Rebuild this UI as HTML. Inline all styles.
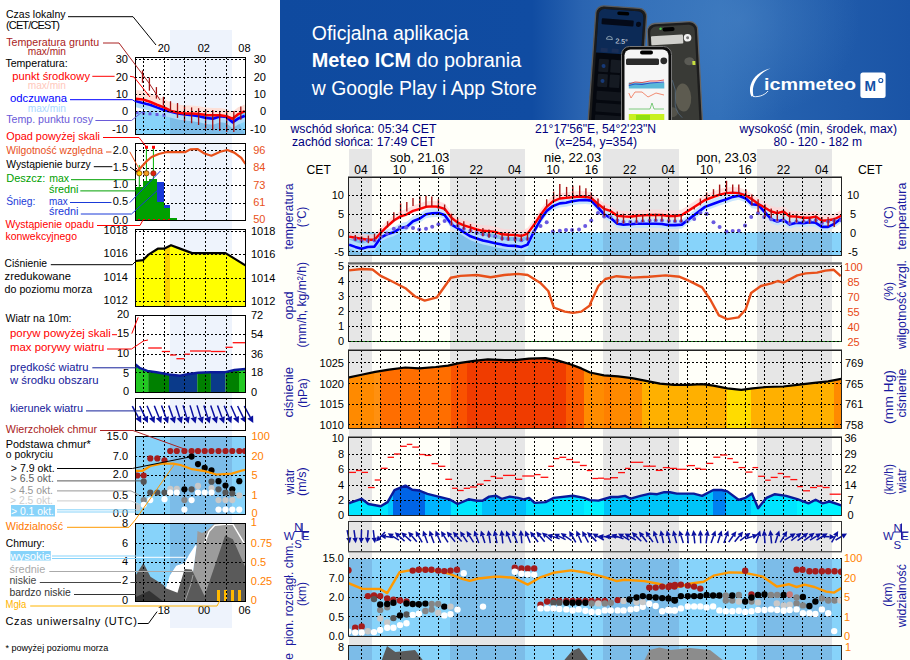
<!DOCTYPE html><html><head><meta charset="utf-8"><style>html,body{margin:0;padding:0;background:#fff;overflow:hidden}</style></head><body><svg width="910" height="660" viewBox="0 0 910 660" style="font-family:'Liberation Sans',sans-serif;display:block">
<rect x="0" y="0" width="280" height="660" fill="#ffffff"/>
<rect x="280" y="0" width="630" height="660" fill="#fffff9"/>
<rect x="349" y="149" width="23" height="511" fill="#e6e6e6"/>
<rect x="450" y="149" width="75" height="511" fill="#e6e6e6"/>
<rect x="603" y="149" width="76" height="511" fill="#e6e6e6"/>
<rect x="757" y="149" width="75" height="511" fill="#e6e6e6"/>
<text x="290.5" y="132.8" font-size="12" fill="#000080" textLength="146" lengthAdjust="spacingAndGlyphs">wschód słońca: 05:34 CET</text>
<text x="292" y="145.9" font-size="12" fill="#000080" textLength="143" lengthAdjust="spacingAndGlyphs">zachód słońca: 17:49 CET</text>
<text x="535" y="132.8" font-size="12" fill="#000080" textLength="121" lengthAdjust="spacingAndGlyphs">21°17'56"E, 54°2'23"N</text>
<text x="555" y="145.9" font-size="12" fill="#000080" textLength="82" lengthAdjust="spacingAndGlyphs">(x=254,  y=354)</text>
<text x="739.5" y="132.8" font-size="12" fill="#000080" textLength="157.5" lengthAdjust="spacingAndGlyphs">wysokość (min, środek, max)</text>
<text x="773.5" y="145.9" font-size="12" fill="#000080" textLength="88.5" lengthAdjust="spacingAndGlyphs">80 - 120 - 182 m</text>
<text x="306.6" y="174.1" font-size="12" fill="#000" textLength="24.3" lengthAdjust="spacingAndGlyphs">CET</text>
<text x="858" y="174.1" font-size="12" fill="#000" textLength="24.3" lengthAdjust="spacingAndGlyphs">CET</text>
<text x="361.0" y="174.1" font-size="12" fill="#000" text-anchor="middle">04</text>
<text x="399.4" y="174.1" font-size="12" fill="#000" text-anchor="middle">10</text>
<text x="437.8" y="174.1" font-size="12" fill="#000" text-anchor="middle">16</text>
<text x="476.2" y="174.1" font-size="12" fill="#000" text-anchor="middle">22</text>
<text x="514.6" y="174.1" font-size="12" fill="#000" text-anchor="middle">04</text>
<text x="553.0" y="174.1" font-size="12" fill="#000" text-anchor="middle">10</text>
<text x="591.4" y="174.1" font-size="12" fill="#000" text-anchor="middle">16</text>
<text x="629.8" y="174.1" font-size="12" fill="#000" text-anchor="middle">22</text>
<text x="668.2" y="174.1" font-size="12" fill="#000" text-anchor="middle">04</text>
<text x="706.6" y="174.1" font-size="12" fill="#000" text-anchor="middle">10</text>
<text x="745.0" y="174.1" font-size="12" fill="#000" text-anchor="middle">16</text>
<text x="783.4" y="174.1" font-size="12" fill="#000" text-anchor="middle">22</text>
<text x="821.8" y="174.1" font-size="12" fill="#000" text-anchor="middle">04</text>
<text x="419.7" y="161.5" font-size="12.5" fill="#000" text-anchor="middle" textLength="59.4" lengthAdjust="spacingAndGlyphs">sob, 21.03</text>
<text x="572.6" y="161.5" font-size="12.5" fill="#000" text-anchor="middle" textLength="57.3" lengthAdjust="spacingAndGlyphs">nie, 22.03</text>
<text x="726.4" y="161.5" font-size="12.5" fill="#000" text-anchor="middle" textLength="60.3" lengthAdjust="spacingAndGlyphs">pon, 23.03</text>
<clipPath id="cT"><rect x="349" y="178" width="492" height="77"/></clipPath>
<g clip-path="url(#cT)">
<rect x="349" y="232.5" width="492" height="23" fill="#87d3fa"/>
<rect x="349" y="232.5" width="23" height="23" fill="#7fbfe8"/>
<rect x="450" y="232.5" width="75" height="23" fill="#7fbfe8"/>
<rect x="603" y="232.5" width="76" height="23" fill="#7fbfe8"/>
<rect x="757" y="232.5" width="75" height="23" fill="#7fbfe8"/>
<polygon points="349.1,231.1 355.3,232.2 361.5,233.3 367.7,234.3 374.5,234.3 380.7,227.4 386.9,221.2 393.8,215.0 400.6,210.9 406.8,208.8 413.0,205.4 419.9,203.3 426.0,201.3 432.2,200.9 438.4,201.3 444.6,203.3 451.5,212.3 457.6,217.1 463.8,219.8 470.5,221.9 476.7,224.0 482.9,225.3 489.0,225.6 495.2,226.4 502.1,228.8 508.3,229.2 515.1,229.4 521.3,230.5 527.5,228.1 533.7,219.8 540.5,209.5 546.7,201.3 552.9,195.8 559.8,193.0 566.0,192.4 572.1,191.7 579.0,191.0 585.2,191.3 591.2,192.4 598.0,198.5 604.2,203.3 610.4,205.4 617.3,210.2 623.5,210.9 630.3,211.3 636.5,210.2 642.7,209.9 649.6,209.5 655.7,209.5 661.9,209.5 668.8,210.5 675.0,210.5 681.8,209.5 705.0,194.5 713.5,191.4 719.6,189.1 726.5,187.6 732.7,187.1 738.8,187.6 745.8,189.9 751.9,193.7 758.1,198.3 765.0,202.2 771.2,206.0 777.3,207.6 783.5,206.0 789.6,210.7 796.5,211.1 803.5,212.2 809.6,212.2 815.8,211.1 821.9,215.3 828.1,214.8 834.2,213.7 841.2,210.2 841.2,217.7 834.2,221.2 828.1,222.3 821.9,222.8 815.8,218.6 809.6,219.7 803.5,219.7 796.5,218.6 789.6,218.2 783.5,213.5 777.3,215.1 771.2,213.5 765.0,209.7 758.1,205.8 751.9,201.2 745.8,197.4 738.8,195.1 732.7,194.6 726.5,195.1 719.6,196.6 713.5,198.9 705.0,202.0 681.8,217.0 675.0,218.0 668.8,218.0 661.9,217.0 655.7,217.0 649.6,217.0 642.7,217.4 636.5,217.7 630.3,218.8 623.5,218.4 617.3,217.7 610.4,212.9 604.2,210.8 598.0,206.0 591.2,199.9 585.2,198.8 579.0,198.5 572.1,199.2 566.0,199.9 559.8,200.5 552.9,203.3 546.7,208.8 540.5,217.0 533.7,227.3 527.5,235.6 521.3,238.0 515.1,236.9 508.3,236.7 502.1,236.3 495.2,233.9 489.0,233.1 482.9,232.8 476.7,231.5 470.5,229.4 463.8,227.3 457.6,224.6 451.5,219.8 444.6,210.8 438.4,208.8 432.2,208.4 426.0,208.8 419.9,210.8 413.0,212.9 406.8,216.3 400.6,218.4 393.8,222.5 386.9,228.7 380.7,234.9 374.5,241.8 367.7,241.8 361.5,240.8 355.3,239.7 349.1,238.6" fill="#ffd6d6" opacity="0.75"/>
<polygon points="349.1,239.6 355.3,241.9 361.5,243.7 367.7,242.0 374.5,241.6 380.7,232.7 386.9,229.3 393.8,227.2 400.6,223.1 406.8,221.7 413.0,216.2 419.9,213.5 426.0,209.3 432.2,208.2 438.4,208.0 444.6,210.0 451.5,219.6 457.6,223.1 463.8,227.2 470.5,231.3 476.7,233.4 482.9,235.4 489.0,236.8 495.2,238.2 502.1,239.6 508.3,240.7 515.1,240.9 521.3,242.0 527.5,239.6 533.7,227.2 540.5,214.8 546.7,205.9 552.9,201.1 559.8,198.4 566.0,197.7 572.1,196.3 579.0,195.3 585.2,194.9 591.2,195.6 598.0,202.5 604.2,209.3 610.4,212.8 617.3,218.7 623.5,219.6 630.3,219.2 636.5,218.7 642.7,218.7 649.6,218.7 655.7,218.7 661.9,219.0 668.8,220.1 675.0,220.1 681.8,219.6 705.0,201.9 713.5,198.8 719.6,196.5 726.5,194.2 732.7,191.9 738.8,190.7 745.8,193.5 751.9,199.3 758.1,199.9 765.0,207.3 771.2,214.2 777.3,216.5 783.5,214.7 789.6,219.6 796.5,217.8 803.5,218.1 809.6,217.3 815.8,217.8 821.9,221.9 828.1,221.9 834.2,218.8 841.2,213.5 841.2,222.5 834.2,227.8 828.1,230.9 821.9,230.9 815.8,226.8 809.6,226.3 803.5,227.1 796.5,226.8 789.6,228.6 783.5,223.7 777.3,225.5 771.2,223.2 765.0,216.3 758.1,208.9 751.9,208.3 745.8,202.5 738.8,199.7 732.7,200.9 726.5,203.2 719.6,205.5 713.5,207.8 705.0,210.9 681.8,228.6 675.0,229.1 668.8,229.1 661.9,228.0 655.7,227.7 649.6,227.7 642.7,227.7 636.5,227.7 630.3,228.2 623.5,228.6 617.3,227.7 610.4,221.8 604.2,218.3 598.0,211.5 591.2,204.6 585.2,203.9 579.0,204.3 572.1,205.3 566.0,206.7 559.8,207.4 552.9,210.1 546.7,214.9 540.5,223.8 533.7,236.2 527.5,248.6 521.3,251.0 515.1,249.9 508.3,249.7 502.1,248.6 495.2,247.2 489.0,245.8 482.9,244.4 476.7,242.4 470.5,240.3 463.8,236.2 457.6,232.1 451.5,228.6 444.6,219.0 438.4,217.0 432.2,217.2 426.0,218.3 419.9,222.5 413.0,225.2 406.8,230.7 400.6,232.1 393.8,236.2 386.9,238.3 380.7,241.7 374.5,250.6 367.7,251.0 361.5,252.7 355.3,250.9 349.1,248.6" fill="#bfe2ff" opacity="0.85"/>
<polyline points="349.1,244.6 355.3,246.9 361.5,248.7 367.7,247.0 374.5,246.6 380.7,237.7 386.9,234.3 393.8,232.2 400.6,228.1 406.8,226.7 413.0,221.2 419.9,218.5 426.0,214.3 432.2,213.2 438.4,213.0 444.6,215.0 451.5,224.6 457.6,228.1 463.8,232.2 470.5,236.3 476.7,238.4 482.9,240.4 489.0,241.8 495.2,243.2 502.1,244.6 508.3,245.7 515.1,245.9 521.3,247.0 527.5,244.6 533.7,232.2 540.5,219.8 546.7,210.9 552.9,206.1 559.8,203.4 566.0,202.7 572.1,201.3 579.0,200.3 585.2,199.9 591.2,200.6 598.0,207.5 604.2,214.3 610.4,217.8 617.3,223.7 623.5,224.6 630.3,224.2 636.5,223.7 642.7,223.7 649.6,223.7 655.7,223.7 661.9,224.0 668.8,225.1 675.0,225.1 681.8,224.6 705.0,206.9 713.5,203.8 719.6,201.5 726.5,199.2 732.7,196.9 738.8,195.7 745.8,198.5 751.9,204.3 758.1,204.9 765.0,212.3 771.2,219.2 777.3,221.5 783.5,219.7 789.6,224.6 796.5,222.8 803.5,223.1 809.6,222.3 815.8,222.8 821.9,226.9 828.1,226.9 834.2,223.8 841.2,218.5" fill="none" stroke="#0000ff" stroke-width="2.6" stroke-linejoin="round"/>
<polyline points="349.1,236.6 355.3,237.7 361.5,238.8 367.7,239.8 374.5,239.8 380.7,232.9 386.9,226.7 393.8,220.5 400.6,216.4 406.8,214.3 413.0,210.9 419.9,208.8 426.0,206.8 432.2,206.4 438.4,206.8 444.6,208.8 451.5,217.8 457.6,222.6 463.8,225.3 470.5,227.4 476.7,229.5 482.9,230.8 489.0,231.1 495.2,231.9 502.1,234.3 508.3,234.7 515.1,234.9 521.3,236.0 527.5,233.6 533.7,225.3 540.5,215.0 546.7,206.8 552.9,201.3 559.8,198.5 566.0,197.9 572.1,197.2 579.0,196.5 585.2,196.8 591.2,197.9 598.0,204.0 604.2,208.8 610.4,210.9 617.3,215.7 623.5,216.4 630.3,216.8 636.5,215.7 642.7,215.4 649.6,215.0 655.7,215.0 661.9,215.0 668.8,216.0 675.0,216.0 681.8,215.0 705.0,200.0 713.5,196.9 719.6,194.6 726.5,193.1 732.7,192.6 738.8,193.1 745.8,195.4 751.9,199.2 758.1,203.8 765.0,207.7 771.2,211.5 777.3,213.1 783.5,211.5 789.6,216.2 796.5,216.6 803.5,217.7 809.6,217.7 815.8,216.6 821.9,220.8 828.1,220.3 834.2,219.2 841.2,215.7" fill="none" stroke="#ff0000" stroke-width="2.4" stroke-linejoin="round"/>
<circle cx="355.3" cy="239.3" r="2" fill="#6a5ae0"/>
<circle cx="361.5" cy="240.4" r="2" fill="#6a5ae0"/>
<circle cx="367.7" cy="240.4" r="2" fill="#6a5ae0"/>
<circle cx="374.5" cy="240.4" r="2" fill="#6a5ae0"/>
<circle cx="380.7" cy="237.0" r="2" fill="#6a5ae0"/>
<circle cx="386.9" cy="233.6" r="2" fill="#6a5ae0"/>
<circle cx="393.8" cy="228.8" r="2" fill="#6a5ae0"/>
<circle cx="399.9" cy="227.4" r="2" fill="#6a5ae0"/>
<circle cx="406.1" cy="227.4" r="2" fill="#6a5ae0"/>
<circle cx="413.0" cy="228.1" r="2" fill="#6a5ae0"/>
<circle cx="419.2" cy="229.5" r="2" fill="#6a5ae0"/>
<circle cx="426.0" cy="228.8" r="2" fill="#6a5ae0"/>
<circle cx="432.2" cy="226.7" r="2" fill="#6a5ae0"/>
<circle cx="438.4" cy="224.2" r="2" fill="#6a5ae0"/>
<circle cx="444.6" cy="220.9" r="2" fill="#6a5ae0"/>
<circle cx="451.5" cy="224.0" r="2" fill="#6a5ae0"/>
<circle cx="457.6" cy="226.0" r="2" fill="#6a5ae0"/>
<circle cx="463.8" cy="228.8" r="2" fill="#6a5ae0"/>
<circle cx="470.5" cy="230.8" r="2" fill="#6a5ae0"/>
<circle cx="476.7" cy="232.9" r="2" fill="#6a5ae0"/>
<circle cx="482.9" cy="234.3" r="2" fill="#6a5ae0"/>
<circle cx="489.0" cy="235.6" r="2" fill="#6a5ae0"/>
<circle cx="495.2" cy="236.3" r="2" fill="#6a5ae0"/>
<circle cx="502.1" cy="238.4" r="2" fill="#6a5ae0"/>
<circle cx="508.3" cy="239.1" r="2" fill="#6a5ae0"/>
<circle cx="515.1" cy="239.1" r="2" fill="#6a5ae0"/>
<circle cx="521.3" cy="240.2" r="2" fill="#6a5ae0"/>
<circle cx="527.5" cy="239.1" r="2" fill="#6a5ae0"/>
<circle cx="533.7" cy="232.2" r="2" fill="#6a5ae0"/>
<circle cx="540.5" cy="226.0" r="2" fill="#6a5ae0"/>
<circle cx="546.7" cy="222.3" r="2" fill="#6a5ae0"/>
<circle cx="552.9" cy="231.5" r="2" fill="#6a5ae0"/>
<circle cx="559.8" cy="230.8" r="2" fill="#6a5ae0"/>
<circle cx="566.0" cy="230.1" r="2" fill="#6a5ae0"/>
<circle cx="572.1" cy="230.1" r="2" fill="#6a5ae0"/>
<circle cx="579.0" cy="229.5" r="2" fill="#6a5ae0"/>
<circle cx="585.2" cy="226.0" r="2" fill="#6a5ae0"/>
<circle cx="591.2" cy="220.5" r="2" fill="#6a5ae0"/>
<circle cx="598.0" cy="213.0" r="2" fill="#6a5ae0"/>
<circle cx="604.2" cy="216.4" r="2" fill="#6a5ae0"/>
<circle cx="610.4" cy="217.1" r="2" fill="#6a5ae0"/>
<circle cx="617.3" cy="220.5" r="2" fill="#6a5ae0"/>
<circle cx="623.5" cy="221.9" r="2" fill="#6a5ae0"/>
<circle cx="630.3" cy="221.9" r="2" fill="#6a5ae0"/>
<circle cx="636.5" cy="221.9" r="2" fill="#6a5ae0"/>
<circle cx="642.7" cy="221.2" r="2" fill="#6a5ae0"/>
<circle cx="649.6" cy="220.8" r="2" fill="#6a5ae0"/>
<circle cx="655.7" cy="220.5" r="2" fill="#6a5ae0"/>
<circle cx="661.9" cy="220.5" r="2" fill="#6a5ae0"/>
<circle cx="668.8" cy="220.9" r="2" fill="#6a5ae0"/>
<circle cx="675.0" cy="221.2" r="2" fill="#6a5ae0"/>
<circle cx="681.2" cy="221.2" r="2" fill="#6a5ae0"/>
<circle cx="687.3" cy="220.9" r="2" fill="#6a5ae0"/>
<circle cx="694.2" cy="219.1" r="2" fill="#6a5ae0"/>
<circle cx="700.4" cy="213.0" r="2" fill="#6a5ae0"/>
<circle cx="706.6" cy="213.7" r="2" fill="#6a5ae0"/>
<circle cx="706.5" cy="213.8" r="2" fill="#6a5ae0"/>
<circle cx="713.5" cy="222.3" r="2" fill="#6a5ae0"/>
<circle cx="719.6" cy="226.9" r="2" fill="#6a5ae0"/>
<circle cx="726.5" cy="231.5" r="2" fill="#6a5ae0"/>
<circle cx="732.7" cy="231.1" r="2" fill="#6a5ae0"/>
<circle cx="738.8" cy="230.8" r="2" fill="#6a5ae0"/>
<circle cx="745.0" cy="225.4" r="2" fill="#6a5ae0"/>
<circle cx="751.2" cy="216.9" r="2" fill="#6a5ae0"/>
<circle cx="758.1" cy="213.1" r="2" fill="#6a5ae0"/>
<circle cx="764.2" cy="216.9" r="2" fill="#6a5ae0"/>
<circle cx="771.2" cy="219.2" r="2" fill="#6a5ae0"/>
<circle cx="777.3" cy="220.8" r="2" fill="#6a5ae0"/>
<circle cx="783.5" cy="220.8" r="2" fill="#6a5ae0"/>
<circle cx="789.6" cy="223.1" r="2" fill="#6a5ae0"/>
<circle cx="796.5" cy="221.5" r="2" fill="#6a5ae0"/>
<circle cx="803.5" cy="221.5" r="2" fill="#6a5ae0"/>
<circle cx="809.6" cy="220.8" r="2" fill="#6a5ae0"/>
<circle cx="815.8" cy="220.3" r="2" fill="#6a5ae0"/>
<circle cx="821.9" cy="223.1" r="2" fill="#6a5ae0"/>
<circle cx="828.1" cy="221.5" r="2" fill="#6a5ae0"/>
<circle cx="834.2" cy="220.8" r="2" fill="#6a5ae0"/>
<circle cx="841.2" cy="220.3" r="2" fill="#6a5ae0"/>
<line x1="355.3" y1="234.9" x2="355.3" y2="240.4" stroke="#a81414" stroke-width="1.4"/>
<line x1="361.5" y1="236.3" x2="361.5" y2="241.1" stroke="#a81414" stroke-width="1.4"/>
<line x1="368.4" y1="235.6" x2="368.4" y2="243.2" stroke="#a81414" stroke-width="1.4"/>
<line x1="374.5" y1="233.6" x2="374.5" y2="241.1" stroke="#a81414" stroke-width="1.4"/>
<line x1="380.7" y1="228.1" x2="380.7" y2="236.3" stroke="#a81414" stroke-width="1.4"/>
<line x1="387.6" y1="221.2" x2="387.6" y2="227.4" stroke="#a81414" stroke-width="1.4"/>
<line x1="393.8" y1="212.3" x2="393.8" y2="221.2" stroke="#a81414" stroke-width="1.4"/>
<line x1="400.6" y1="203.4" x2="400.6" y2="214.3" stroke="#a81414" stroke-width="1.4"/>
<line x1="406.8" y1="202.0" x2="406.8" y2="211.6" stroke="#a81414" stroke-width="1.4"/>
<line x1="413.0" y1="197.9" x2="413.0" y2="206.1" stroke="#a81414" stroke-width="1.4"/>
<line x1="419.9" y1="196.5" x2="419.9" y2="208.8" stroke="#a81414" stroke-width="1.4"/>
<line x1="426.0" y1="195.8" x2="426.0" y2="206.8" stroke="#a81414" stroke-width="1.4"/>
<line x1="431.8" y1="196.5" x2="431.8" y2="206.1" stroke="#a81414" stroke-width="1.4"/>
<line x1="438.4" y1="199.2" x2="438.4" y2="208.8" stroke="#a81414" stroke-width="1.4"/>
<line x1="444.6" y1="204.5" x2="444.6" y2="210.9" stroke="#a81414" stroke-width="1.4"/>
<line x1="451.5" y1="213.7" x2="451.5" y2="225.3" stroke="#a81414" stroke-width="1.4"/>
<line x1="457.6" y1="218.5" x2="457.6" y2="226.7" stroke="#a81414" stroke-width="1.4"/>
<line x1="463.8" y1="221.2" x2="463.8" y2="229.5" stroke="#a81414" stroke-width="1.4"/>
<line x1="470.5" y1="224.0" x2="470.5" y2="232.2" stroke="#a81414" stroke-width="1.4"/>
<line x1="482.9" y1="228.1" x2="482.9" y2="236.3" stroke="#a81414" stroke-width="1.4"/>
<line x1="489.0" y1="229.5" x2="489.0" y2="237.7" stroke="#a81414" stroke-width="1.4"/>
<line x1="502.1" y1="232.2" x2="502.1" y2="240.4" stroke="#a81414" stroke-width="1.4"/>
<line x1="508.3" y1="232.9" x2="508.3" y2="240.4" stroke="#a81414" stroke-width="1.4"/>
<line x1="515.1" y1="233.6" x2="515.1" y2="241.8" stroke="#a81414" stroke-width="1.4"/>
<line x1="521.3" y1="234.3" x2="521.3" y2="241.1" stroke="#a81414" stroke-width="1.4"/>
<line x1="527.5" y1="232.2" x2="527.5" y2="240.4" stroke="#a81414" stroke-width="1.4"/>
<line x1="540.5" y1="213.0" x2="540.5" y2="219.8" stroke="#a81414" stroke-width="1.4"/>
<line x1="546.7" y1="199.2" x2="546.7" y2="206.8" stroke="#a81414" stroke-width="1.4"/>
<line x1="553.6" y1="191.7" x2="553.6" y2="202.0" stroke="#a81414" stroke-width="1.4"/>
<line x1="559.8" y1="184.1" x2="559.8" y2="198.5" stroke="#a81414" stroke-width="1.4"/>
<line x1="566.6" y1="186.9" x2="566.6" y2="197.2" stroke="#a81414" stroke-width="1.4"/>
<line x1="572.8" y1="185.5" x2="572.8" y2="197.2" stroke="#a81414" stroke-width="1.4"/>
<line x1="579.7" y1="185.5" x2="579.7" y2="196.5" stroke="#a81414" stroke-width="1.4"/>
<line x1="585.9" y1="188.2" x2="585.9" y2="197.9" stroke="#a81414" stroke-width="1.4"/>
<line x1="591.2" y1="192.4" x2="591.2" y2="199.2" stroke="#a81414" stroke-width="1.4"/>
<line x1="598.0" y1="198.5" x2="598.0" y2="207.5" stroke="#a81414" stroke-width="1.4"/>
<line x1="604.2" y1="205.4" x2="604.2" y2="216.4" stroke="#a81414" stroke-width="1.4"/>
<line x1="617.3" y1="211.6" x2="617.3" y2="224.0" stroke="#a81414" stroke-width="1.4"/>
<line x1="623.5" y1="213.7" x2="623.5" y2="223.3" stroke="#a81414" stroke-width="1.4"/>
<line x1="636.5" y1="214.3" x2="636.5" y2="222.6" stroke="#a81414" stroke-width="1.4"/>
<line x1="642.7" y1="214.3" x2="642.7" y2="221.9" stroke="#a81414" stroke-width="1.4"/>
<line x1="649.6" y1="213.7" x2="649.6" y2="221.2" stroke="#a81414" stroke-width="1.4"/>
<line x1="655.7" y1="213.7" x2="655.7" y2="221.2" stroke="#a81414" stroke-width="1.4"/>
<line x1="661.9" y1="214.3" x2="661.9" y2="221.2" stroke="#a81414" stroke-width="1.4"/>
<line x1="668.8" y1="215.0" x2="668.8" y2="221.9" stroke="#a81414" stroke-width="1.4"/>
<line x1="675.0" y1="214.3" x2="675.0" y2="221.9" stroke="#a81414" stroke-width="1.4"/>
<line x1="681.2" y1="215.0" x2="681.2" y2="221.9" stroke="#a81414" stroke-width="1.4"/>
<line x1="694.2" y1="206.8" x2="694.2" y2="209.5" stroke="#a81414" stroke-width="1.4"/>
<line x1="700.4" y1="198.5" x2="700.4" y2="205.4" stroke="#a81414" stroke-width="1.4"/>
<line x1="706.6" y1="192.4" x2="706.6" y2="199.9" stroke="#a81414" stroke-width="1.4"/>
<line x1="713.5" y1="189.2" x2="713.5" y2="196.9" stroke="#a81414" stroke-width="1.4"/>
<line x1="719.6" y1="184.6" x2="719.6" y2="195.4" stroke="#a81414" stroke-width="1.4"/>
<line x1="726.5" y1="180.8" x2="726.5" y2="193.8" stroke="#a81414" stroke-width="1.4"/>
<line x1="732.7" y1="184.6" x2="732.7" y2="193.1" stroke="#a81414" stroke-width="1.4"/>
<line x1="738.8" y1="184.6" x2="738.8" y2="193.8" stroke="#a81414" stroke-width="1.4"/>
<line x1="745.8" y1="189.2" x2="745.8" y2="195.4" stroke="#a81414" stroke-width="1.4"/>
<line x1="751.9" y1="194.6" x2="751.9" y2="205.4" stroke="#a81414" stroke-width="1.4"/>
<line x1="758.1" y1="199.2" x2="758.1" y2="212.3" stroke="#a81414" stroke-width="1.4"/>
<line x1="765.0" y1="204.6" x2="765.0" y2="216.9" stroke="#a81414" stroke-width="1.4"/>
<line x1="771.2" y1="208.5" x2="771.2" y2="217.7" stroke="#a81414" stroke-width="1.4"/>
<line x1="777.3" y1="210.0" x2="777.3" y2="220.8" stroke="#a81414" stroke-width="1.4"/>
<line x1="783.5" y1="210.8" x2="783.5" y2="220.0" stroke="#a81414" stroke-width="1.4"/>
<line x1="789.6" y1="212.3" x2="789.6" y2="222.3" stroke="#a81414" stroke-width="1.4"/>
<line x1="796.5" y1="213.8" x2="796.5" y2="222.3" stroke="#a81414" stroke-width="1.4"/>
<line x1="803.5" y1="216.2" x2="803.5" y2="221.5" stroke="#a81414" stroke-width="1.4"/>
<line x1="809.6" y1="216.9" x2="809.6" y2="223.8" stroke="#a81414" stroke-width="1.4"/>
<line x1="815.8" y1="215.4" x2="815.8" y2="222.3" stroke="#a81414" stroke-width="1.4"/>
<line x1="821.9" y1="216.9" x2="821.9" y2="223.1" stroke="#a81414" stroke-width="1.4"/>
<line x1="828.1" y1="216.9" x2="828.1" y2="226.2" stroke="#a81414" stroke-width="1.4"/>
<line x1="834.2" y1="217.7" x2="834.2" y2="226.9" stroke="#a81414" stroke-width="1.4"/>
</g>
<line x1="348" y1="195.5" x2="841" y2="195.5" stroke="#000" stroke-width="1" stroke-dasharray="2,2"/>
<line x1="348" y1="214.5" x2="841" y2="214.5" stroke="#000" stroke-width="1" stroke-dasharray="2,2"/>
<line x1="348" y1="232.5" x2="841" y2="232.5" stroke="#000" stroke-width="1" stroke-dasharray="2,2"/>
<line x1="348" y1="251.5" x2="841" y2="251.5" stroke="#000" stroke-width="1" stroke-dasharray="2,2"/>
<line x1="361.5" y1="177" x2="361.5" y2="255" stroke="#000" stroke-width="1" stroke-dasharray="2,2"/>
<line x1="380.5" y1="177" x2="380.5" y2="255" stroke="#000" stroke-width="1" stroke-dasharray="2,2"/>
<line x1="400.5" y1="177" x2="400.5" y2="255" stroke="#000" stroke-width="1" stroke-dasharray="2,2"/>
<line x1="419.5" y1="177" x2="419.5" y2="255" stroke="#000" stroke-width="1" stroke-dasharray="2,2"/>
<line x1="438.5" y1="177" x2="438.5" y2="255" stroke="#000" stroke-width="1" stroke-dasharray="2,2"/>
<line x1="457.5" y1="177" x2="457.5" y2="255" stroke="#000" stroke-width="1" stroke-dasharray="2,2"/>
<line x1="476.5" y1="177" x2="476.5" y2="255" stroke="#000" stroke-width="1" stroke-dasharray="2,2"/>
<line x1="495.5" y1="177" x2="495.5" y2="255" stroke="#000" stroke-width="1" stroke-dasharray="2,2"/>
<line x1="515.5" y1="177" x2="515.5" y2="255" stroke="#000" stroke-width="1" stroke-dasharray="2,2"/>
<line x1="534.5" y1="177" x2="534.5" y2="255" stroke="#000" stroke-width="1" stroke-dasharray="2,2"/>
<line x1="553.5" y1="177" x2="553.5" y2="255" stroke="#000" stroke-width="1" stroke-dasharray="2,2"/>
<line x1="572.5" y1="177" x2="572.5" y2="255" stroke="#000" stroke-width="1" stroke-dasharray="2,2"/>
<line x1="591.5" y1="177" x2="591.5" y2="255" stroke="#000" stroke-width="1" stroke-dasharray="2,2"/>
<line x1="610.5" y1="177" x2="610.5" y2="255" stroke="#000" stroke-width="1" stroke-dasharray="2,2"/>
<line x1="630.5" y1="177" x2="630.5" y2="255" stroke="#000" stroke-width="1" stroke-dasharray="2,2"/>
<line x1="649.5" y1="177" x2="649.5" y2="255" stroke="#000" stroke-width="1" stroke-dasharray="2,2"/>
<line x1="668.5" y1="177" x2="668.5" y2="255" stroke="#000" stroke-width="1" stroke-dasharray="2,2"/>
<line x1="687.5" y1="177" x2="687.5" y2="255" stroke="#000" stroke-width="1" stroke-dasharray="2,2"/>
<line x1="706.5" y1="177" x2="706.5" y2="255" stroke="#000" stroke-width="1" stroke-dasharray="2,2"/>
<line x1="725.5" y1="177" x2="725.5" y2="255" stroke="#000" stroke-width="1" stroke-dasharray="2,2"/>
<line x1="745.5" y1="177" x2="745.5" y2="255" stroke="#000" stroke-width="1" stroke-dasharray="2,2"/>
<line x1="764.5" y1="177" x2="764.5" y2="255" stroke="#000" stroke-width="1" stroke-dasharray="2,2"/>
<line x1="783.5" y1="177" x2="783.5" y2="255" stroke="#000" stroke-width="1" stroke-dasharray="2,2"/>
<line x1="802.5" y1="177" x2="802.5" y2="255" stroke="#000" stroke-width="1" stroke-dasharray="2,2"/>
<line x1="821.5" y1="177" x2="821.5" y2="255" stroke="#000" stroke-width="1" stroke-dasharray="2,2"/>
<rect x="348.5" y="177.5" width="493" height="78" fill="none" stroke="#222" stroke-width="1"/>
<line x1="348" y1="176.5" x2="842" y2="176.5" stroke="#8a8a8a" stroke-width="1"/>
<text x="344" y="199.3" font-size="11" fill="#000" text-anchor="end">10</text>
<text x="853" y="199.3" font-size="11" fill="#000" text-anchor="middle">10</text>
<text x="344" y="218.3" font-size="11" fill="#000" text-anchor="end">5</text>
<text x="853" y="218.3" font-size="11" fill="#000" text-anchor="middle">5</text>
<text x="344" y="236.8" font-size="11" fill="#000" text-anchor="end">0</text>
<text x="853" y="236.8" font-size="11" fill="#000" text-anchor="middle">0</text>
<text x="344" y="255.60000000000002" font-size="11" fill="#000" text-anchor="end">-5</text>
<text x="853" y="255.60000000000002" font-size="11" fill="#000" text-anchor="middle">-5</text>
<line x1="348" y1="266.5" x2="841" y2="266.5" stroke="#000" stroke-width="1" stroke-dasharray="2,2"/>
<line x1="348" y1="281.5" x2="841" y2="281.5" stroke="#000" stroke-width="1" stroke-dasharray="2,2"/>
<line x1="348" y1="296.5" x2="841" y2="296.5" stroke="#000" stroke-width="1" stroke-dasharray="2,2"/>
<line x1="348" y1="311.5" x2="841" y2="311.5" stroke="#000" stroke-width="1" stroke-dasharray="2,2"/>
<line x1="348" y1="326.5" x2="841" y2="326.5" stroke="#000" stroke-width="1" stroke-dasharray="2,2"/>
<line x1="361.5" y1="263" x2="361.5" y2="341" stroke="#000" stroke-width="1" stroke-dasharray="2,2"/>
<line x1="380.5" y1="263" x2="380.5" y2="341" stroke="#000" stroke-width="1" stroke-dasharray="2,2"/>
<line x1="400.5" y1="263" x2="400.5" y2="341" stroke="#000" stroke-width="1" stroke-dasharray="2,2"/>
<line x1="419.5" y1="263" x2="419.5" y2="341" stroke="#000" stroke-width="1" stroke-dasharray="2,2"/>
<line x1="438.5" y1="263" x2="438.5" y2="341" stroke="#000" stroke-width="1" stroke-dasharray="2,2"/>
<line x1="457.5" y1="263" x2="457.5" y2="341" stroke="#000" stroke-width="1" stroke-dasharray="2,2"/>
<line x1="476.5" y1="263" x2="476.5" y2="341" stroke="#000" stroke-width="1" stroke-dasharray="2,2"/>
<line x1="495.5" y1="263" x2="495.5" y2="341" stroke="#000" stroke-width="1" stroke-dasharray="2,2"/>
<line x1="515.5" y1="263" x2="515.5" y2="341" stroke="#000" stroke-width="1" stroke-dasharray="2,2"/>
<line x1="534.5" y1="263" x2="534.5" y2="341" stroke="#000" stroke-width="1" stroke-dasharray="2,2"/>
<line x1="553.5" y1="263" x2="553.5" y2="341" stroke="#000" stroke-width="1" stroke-dasharray="2,2"/>
<line x1="572.5" y1="263" x2="572.5" y2="341" stroke="#000" stroke-width="1" stroke-dasharray="2,2"/>
<line x1="591.5" y1="263" x2="591.5" y2="341" stroke="#000" stroke-width="1" stroke-dasharray="2,2"/>
<line x1="610.5" y1="263" x2="610.5" y2="341" stroke="#000" stroke-width="1" stroke-dasharray="2,2"/>
<line x1="630.5" y1="263" x2="630.5" y2="341" stroke="#000" stroke-width="1" stroke-dasharray="2,2"/>
<line x1="649.5" y1="263" x2="649.5" y2="341" stroke="#000" stroke-width="1" stroke-dasharray="2,2"/>
<line x1="668.5" y1="263" x2="668.5" y2="341" stroke="#000" stroke-width="1" stroke-dasharray="2,2"/>
<line x1="687.5" y1="263" x2="687.5" y2="341" stroke="#000" stroke-width="1" stroke-dasharray="2,2"/>
<line x1="706.5" y1="263" x2="706.5" y2="341" stroke="#000" stroke-width="1" stroke-dasharray="2,2"/>
<line x1="725.5" y1="263" x2="725.5" y2="341" stroke="#000" stroke-width="1" stroke-dasharray="2,2"/>
<line x1="745.5" y1="263" x2="745.5" y2="341" stroke="#000" stroke-width="1" stroke-dasharray="2,2"/>
<line x1="764.5" y1="263" x2="764.5" y2="341" stroke="#000" stroke-width="1" stroke-dasharray="2,2"/>
<line x1="783.5" y1="263" x2="783.5" y2="341" stroke="#000" stroke-width="1" stroke-dasharray="2,2"/>
<line x1="802.5" y1="263" x2="802.5" y2="341" stroke="#000" stroke-width="1" stroke-dasharray="2,2"/>
<line x1="821.5" y1="263" x2="821.5" y2="341" stroke="#000" stroke-width="1" stroke-dasharray="2,2"/>
<polyline points="349.1,270.4 361.5,269.0 372.5,269.5 380.7,275.9 390.3,280.5 405.4,288.2 415.1,296.5 424.7,300.6 437.0,297.3 450.8,277.8 460.4,275.9 476.9,275.0 490.6,277.2 504.3,275.0 518.1,273.9 527.7,275.0 540.1,282.7 548.3,291.0 553.8,307.5 564.8,311.6 573.0,312.9 581.3,311.6 590.9,304.7 590.0,304.2 598.4,286.0 605.4,279.0 616.6,276.2 632.0,277.6 648.8,276.8 665.7,275.4 679.7,276.8 688.1,280.4 702.1,287.4 710.5,300.0 718.9,315.4 727.3,319.1 738.5,317.4 745.5,309.8 751.1,293.0 760.9,286.0 772.1,283.2 777.7,281.0 783.3,282.7 797.3,275.4 805.7,273.4 817.0,272.6 825.4,270.6 833.8,269.8 840.8,276.2" fill="none" stroke="#e8501a" stroke-width="2.4" stroke-linejoin="round"/>
<rect x="348.5" y="263.5" width="493" height="78" fill="none" stroke="#222" stroke-width="1"/>
<line x1="348" y1="262.5" x2="842" y2="262.5" stroke="#8a8a8a" stroke-width="1"/>
<line x1="348" y1="263.5" x2="842" y2="263.5" stroke="#666" stroke-width="1"/>
<line x1="348" y1="264.5" x2="842" y2="264.5" stroke="#aaa" stroke-width="1"/>
<line x1="349" y1="341.5" x2="841" y2="341.5" stroke="#1a7a1a" stroke-width="1"/>
<line x1="349" y1="341.5" x2="841" y2="341.5" stroke="#000" stroke-width="1" stroke-dasharray="2,2"/>
<text x="344" y="270.3" font-size="11" fill="#000" text-anchor="end">5</text>
<text x="344" y="285.3" font-size="11" fill="#000" text-anchor="end">4</text>
<text x="344" y="300.3" font-size="11" fill="#000" text-anchor="end">3</text>
<text x="344" y="315.3" font-size="11" fill="#000" text-anchor="end">2</text>
<text x="344" y="330.3" font-size="11" fill="#000" text-anchor="end">1</text>
<text x="344" y="345.3" font-size="11" fill="#000" text-anchor="end">0</text>
<text x="853.5" y="270.6" font-size="11" fill="#e84814" text-anchor="middle">100</text>
<text x="853.5" y="285.6" font-size="11" fill="#e84814" text-anchor="middle">85</text>
<text x="853.5" y="300.6" font-size="11" fill="#e84814" text-anchor="middle">70</text>
<text x="853.5" y="315.6" font-size="11" fill="#e84814" text-anchor="middle">55</text>
<text x="853.5" y="330.6" font-size="11" fill="#e84814" text-anchor="middle">40</text>
<text x="853.5" y="345.6" font-size="11" fill="#e84814" text-anchor="middle">25</text>
<clipPath id="cR"><rect x="349" y="351" width="492" height="77"/></clipPath>
<g clip-path="url(#cR)">
<clipPath id="cRf"><polygon points="345.8,378.0 349.1,377.4 361.5,374.7 375.2,371.9 389.0,369.7 405.4,367.5 419.2,368.4 435.7,367.0 448.0,365.6 460.4,362.9 474.1,360.9 487.9,359.3 504.3,360.1 515.3,360.1 529.1,358.7 545.5,358.2 556.5,360.1 570.3,364.2 581.3,368.4 590.0,372.5 604.0,375.3 618.0,376.4 632.0,378.1 646.0,380.9 660.0,383.7 674.1,384.8 688.1,384.8 702.1,384.2 713.3,385.6 727.3,388.4 741.3,389.8 752.5,388.4 766.5,387.0 783.3,386.5 797.3,384.8 814.2,382.8 828.2,381.4 841.3,378.9 842.0,429.0 348.0,429.0"/></clipPath>
<g clip-path="url(#cRf)">
<rect x="348" y="350" width="26" height="80" fill="#ff8a00"/>
<rect x="374" y="350" width="6" height="80" fill="#ff9010"/>
<rect x="380" y="350" width="71" height="80" fill="#ff6e00"/>
<rect x="451" y="350" width="16" height="80" fill="#fa5200"/>
<rect x="467" y="350" width="99" height="80" fill="#f03c00"/>
<rect x="566" y="350" width="18" height="80" fill="#fa5a00"/>
<rect x="584" y="350" width="20" height="80" fill="#ff8c00"/>
<rect x="604" y="350" width="8" height="80" fill="#ff8000"/>
<rect x="612" y="350" width="30" height="80" fill="#ff8a00"/>
<rect x="642" y="350" width="85" height="80" fill="#ffb000"/>
<rect x="727" y="350" width="24" height="80" fill="#ffdc00"/>
<rect x="751" y="350" width="83" height="80" fill="#ffb000"/>
<rect x="834" y="350" width="8" height="80" fill="#ff8a00"/>
</g>
</g>
<line x1="348" y1="362.5" x2="841" y2="362.5" stroke="#000" stroke-width="1" stroke-dasharray="2,2"/>
<line x1="348" y1="383.5" x2="841" y2="383.5" stroke="#000" stroke-width="1" stroke-dasharray="2,2"/>
<line x1="348" y1="404.5" x2="841" y2="404.5" stroke="#000" stroke-width="1" stroke-dasharray="2,2"/>
<line x1="348" y1="424.5" x2="841" y2="424.5" stroke="#000" stroke-width="1" stroke-dasharray="2,2"/>
<line x1="361.5" y1="350" x2="361.5" y2="428" stroke="#000" stroke-width="1" stroke-dasharray="2,2"/>
<line x1="380.5" y1="350" x2="380.5" y2="428" stroke="#000" stroke-width="1" stroke-dasharray="2,2"/>
<line x1="400.5" y1="350" x2="400.5" y2="428" stroke="#000" stroke-width="1" stroke-dasharray="2,2"/>
<line x1="419.5" y1="350" x2="419.5" y2="428" stroke="#000" stroke-width="1" stroke-dasharray="2,2"/>
<line x1="438.5" y1="350" x2="438.5" y2="428" stroke="#000" stroke-width="1" stroke-dasharray="2,2"/>
<line x1="457.5" y1="350" x2="457.5" y2="428" stroke="#000" stroke-width="1" stroke-dasharray="2,2"/>
<line x1="476.5" y1="350" x2="476.5" y2="428" stroke="#000" stroke-width="1" stroke-dasharray="2,2"/>
<line x1="495.5" y1="350" x2="495.5" y2="428" stroke="#000" stroke-width="1" stroke-dasharray="2,2"/>
<line x1="515.5" y1="350" x2="515.5" y2="428" stroke="#000" stroke-width="1" stroke-dasharray="2,2"/>
<line x1="534.5" y1="350" x2="534.5" y2="428" stroke="#000" stroke-width="1" stroke-dasharray="2,2"/>
<line x1="553.5" y1="350" x2="553.5" y2="428" stroke="#000" stroke-width="1" stroke-dasharray="2,2"/>
<line x1="572.5" y1="350" x2="572.5" y2="428" stroke="#000" stroke-width="1" stroke-dasharray="2,2"/>
<line x1="591.5" y1="350" x2="591.5" y2="428" stroke="#000" stroke-width="1" stroke-dasharray="2,2"/>
<line x1="610.5" y1="350" x2="610.5" y2="428" stroke="#000" stroke-width="1" stroke-dasharray="2,2"/>
<line x1="630.5" y1="350" x2="630.5" y2="428" stroke="#000" stroke-width="1" stroke-dasharray="2,2"/>
<line x1="649.5" y1="350" x2="649.5" y2="428" stroke="#000" stroke-width="1" stroke-dasharray="2,2"/>
<line x1="668.5" y1="350" x2="668.5" y2="428" stroke="#000" stroke-width="1" stroke-dasharray="2,2"/>
<line x1="687.5" y1="350" x2="687.5" y2="428" stroke="#000" stroke-width="1" stroke-dasharray="2,2"/>
<line x1="706.5" y1="350" x2="706.5" y2="428" stroke="#000" stroke-width="1" stroke-dasharray="2,2"/>
<line x1="725.5" y1="350" x2="725.5" y2="428" stroke="#000" stroke-width="1" stroke-dasharray="2,2"/>
<line x1="745.5" y1="350" x2="745.5" y2="428" stroke="#000" stroke-width="1" stroke-dasharray="2,2"/>
<line x1="764.5" y1="350" x2="764.5" y2="428" stroke="#000" stroke-width="1" stroke-dasharray="2,2"/>
<line x1="783.5" y1="350" x2="783.5" y2="428" stroke="#000" stroke-width="1" stroke-dasharray="2,2"/>
<line x1="802.5" y1="350" x2="802.5" y2="428" stroke="#000" stroke-width="1" stroke-dasharray="2,2"/>
<line x1="821.5" y1="350" x2="821.5" y2="428" stroke="#000" stroke-width="1" stroke-dasharray="2,2"/>
<g clip-path="url(#cR)">
<polyline points="345.8,378.0 349.1,377.4 361.5,374.7 375.2,371.9 389.0,369.7 405.4,367.5 419.2,368.4 435.7,367.0 448.0,365.6 460.4,362.9 474.1,360.9 487.9,359.3 504.3,360.1 515.3,360.1 529.1,358.7 545.5,358.2 556.5,360.1 570.3,364.2 581.3,368.4 590.0,372.5 604.0,375.3 618.0,376.4 632.0,378.1 646.0,380.9 660.0,383.7 674.1,384.8 688.1,384.8 702.1,384.2 713.3,385.6 727.3,388.4 741.3,389.8 752.5,388.4 766.5,387.0 783.3,386.5 797.3,384.8 814.2,382.8 828.2,381.4 841.3,378.9" fill="none" stroke="#000" stroke-width="2.2" stroke-linejoin="round"/>
</g>
<rect x="348.5" y="350.5" width="493" height="78" fill="none" stroke="#222" stroke-width="1"/>
<line x1="348" y1="349.5" x2="842" y2="349.5" stroke="#8a8a8a" stroke-width="1"/>
<text x="344" y="367.0" font-size="11" fill="#000" text-anchor="end">1025</text>
<text x="344" y="387.90000000000003" font-size="11" fill="#000" text-anchor="end">1020</text>
<text x="344" y="408.3" font-size="11" fill="#000" text-anchor="end">1015</text>
<text x="344" y="428.8" font-size="11" fill="#000" text-anchor="end">1010</text>
<text x="845" y="367.0" font-size="11" fill="#000">769</text>
<text x="845" y="387.90000000000003" font-size="11" fill="#000">765</text>
<text x="845" y="408.3" font-size="11" fill="#000">761</text>
<text x="845" y="428.8" font-size="11" fill="#000">758</text>
<clipPath id="cW"><polygon points="348.0,520.0 349.0,503.4 349.9,502.9 361.5,498.8 368.4,504.0 380.7,506.2 387.6,502.1 394.5,490.2 405.4,485.6 412.3,489.7 419.2,490.5 427.4,493.8 438.4,496.6 449.4,499.3 457.6,504.0 468.6,499.3 476.9,500.7 482.4,500.7 489.2,496.6 496.1,495.7 501.6,498.8 509.8,496.6 518.1,497.9 523.6,499.3 529.1,497.9 534.6,502.9 545.5,502.1 553.8,497.9 573.0,495.7 584.0,497.9 590.0,500.1 598.4,500.6 611.0,497.0 618.0,497.0 625.0,495.9 630.6,498.7 640.4,495.9 650.2,493.6 657.2,494.2 664.3,492.2 669.9,492.2 676.9,493.6 693.7,493.6 702.1,495.9 713.3,490.0 721.7,490.0 727.3,491.4 738.5,499.8 745.5,497.8 752.0,493.6 758.1,508.2 766.5,497.8 774.9,494.2 786.1,495.9 797.3,499.2 808.5,503.4 815.6,499.8 822.6,503.4 829.6,501.5 841.3,505.4 842.0,520.0"/></clipPath>
<g clip-path="url(#cW)">
<rect x="348" y="480" width="40" height="36" fill="#00e6ff"/>
<rect x="388" y="480" width="5" height="36" fill="#00c8ff"/>
<rect x="393" y="480" width="32" height="36" fill="#0064e6"/>
<rect x="425" y="480" width="26" height="36" fill="#00b4ff"/>
<rect x="451" y="480" width="31" height="36" fill="#00e6ff"/>
<rect x="482" y="480" width="44" height="36" fill="#00befa"/>
<rect x="526" y="480" width="58" height="36" fill="#00e0ff"/>
<rect x="584" y="480" width="20" height="36" fill="#00f0ff"/>
<rect x="604" y="480" width="109" height="36" fill="#00c4f8"/>
<rect x="713" y="480" width="13" height="36" fill="#0080f0"/>
<rect x="726" y="480" width="25" height="36" fill="#00c4f8"/>
<rect x="751" y="480" width="46" height="36" fill="#00e4ff"/>
<rect x="797" y="480" width="45" height="36" fill="#00f4ff"/>
</g>
<line x1="348" y1="454.5" x2="841" y2="454.5" stroke="#000" stroke-width="1" stroke-dasharray="2,2"/>
<line x1="348" y1="469.5" x2="841" y2="469.5" stroke="#000" stroke-width="1" stroke-dasharray="2,2"/>
<line x1="348" y1="485.5" x2="841" y2="485.5" stroke="#000" stroke-width="1" stroke-dasharray="2,2"/>
<line x1="348" y1="500.5" x2="841" y2="500.5" stroke="#000" stroke-width="1" stroke-dasharray="2,2"/>
<line x1="361.5" y1="437" x2="361.5" y2="515" stroke="#000" stroke-width="1" stroke-dasharray="2,2"/>
<line x1="380.5" y1="437" x2="380.5" y2="515" stroke="#000" stroke-width="1" stroke-dasharray="2,2"/>
<line x1="400.5" y1="437" x2="400.5" y2="515" stroke="#000" stroke-width="1" stroke-dasharray="2,2"/>
<line x1="419.5" y1="437" x2="419.5" y2="515" stroke="#000" stroke-width="1" stroke-dasharray="2,2"/>
<line x1="438.5" y1="437" x2="438.5" y2="515" stroke="#000" stroke-width="1" stroke-dasharray="2,2"/>
<line x1="457.5" y1="437" x2="457.5" y2="515" stroke="#000" stroke-width="1" stroke-dasharray="2,2"/>
<line x1="476.5" y1="437" x2="476.5" y2="515" stroke="#000" stroke-width="1" stroke-dasharray="2,2"/>
<line x1="495.5" y1="437" x2="495.5" y2="515" stroke="#000" stroke-width="1" stroke-dasharray="2,2"/>
<line x1="515.5" y1="437" x2="515.5" y2="515" stroke="#000" stroke-width="1" stroke-dasharray="2,2"/>
<line x1="534.5" y1="437" x2="534.5" y2="515" stroke="#000" stroke-width="1" stroke-dasharray="2,2"/>
<line x1="553.5" y1="437" x2="553.5" y2="515" stroke="#000" stroke-width="1" stroke-dasharray="2,2"/>
<line x1="572.5" y1="437" x2="572.5" y2="515" stroke="#000" stroke-width="1" stroke-dasharray="2,2"/>
<line x1="591.5" y1="437" x2="591.5" y2="515" stroke="#000" stroke-width="1" stroke-dasharray="2,2"/>
<line x1="610.5" y1="437" x2="610.5" y2="515" stroke="#000" stroke-width="1" stroke-dasharray="2,2"/>
<line x1="630.5" y1="437" x2="630.5" y2="515" stroke="#000" stroke-width="1" stroke-dasharray="2,2"/>
<line x1="649.5" y1="437" x2="649.5" y2="515" stroke="#000" stroke-width="1" stroke-dasharray="2,2"/>
<line x1="668.5" y1="437" x2="668.5" y2="515" stroke="#000" stroke-width="1" stroke-dasharray="2,2"/>
<line x1="687.5" y1="437" x2="687.5" y2="515" stroke="#000" stroke-width="1" stroke-dasharray="2,2"/>
<line x1="706.5" y1="437" x2="706.5" y2="515" stroke="#000" stroke-width="1" stroke-dasharray="2,2"/>
<line x1="725.5" y1="437" x2="725.5" y2="515" stroke="#000" stroke-width="1" stroke-dasharray="2,2"/>
<line x1="745.5" y1="437" x2="745.5" y2="515" stroke="#000" stroke-width="1" stroke-dasharray="2,2"/>
<line x1="764.5" y1="437" x2="764.5" y2="515" stroke="#000" stroke-width="1" stroke-dasharray="2,2"/>
<line x1="783.5" y1="437" x2="783.5" y2="515" stroke="#000" stroke-width="1" stroke-dasharray="2,2"/>
<line x1="802.5" y1="437" x2="802.5" y2="515" stroke="#000" stroke-width="1" stroke-dasharray="2,2"/>
<line x1="821.5" y1="437" x2="821.5" y2="515" stroke="#000" stroke-width="1" stroke-dasharray="2,2"/>
<polyline points="349.0,503.4 349.9,502.9 361.5,498.8 368.4,504.0 380.7,506.2 387.6,502.1 394.5,490.2 405.4,485.6 412.3,489.7 419.2,490.5 427.4,493.8 438.4,496.6 449.4,499.3 457.6,504.0 468.6,499.3 476.9,500.7 482.4,500.7 489.2,496.6 496.1,495.7 501.6,498.8 509.8,496.6 518.1,497.9 523.6,499.3 529.1,497.9 534.6,502.9 545.5,502.1 553.8,497.9 573.0,495.7 584.0,497.9 590.0,500.1 598.4,500.6 611.0,497.0 618.0,497.0 625.0,495.9 630.6,498.7 640.4,495.9 650.2,493.6 657.2,494.2 664.3,492.2 669.9,492.2 676.9,493.6 693.7,493.6 702.1,495.9 713.3,490.0 721.7,490.0 727.3,491.4 738.5,499.8 745.5,497.8 752.0,493.6 758.1,508.2 766.5,497.8 774.9,494.2 786.1,495.9 797.3,499.2 808.5,503.4 815.6,499.8 822.6,503.4 829.6,501.5 841.3,505.4" fill="none" stroke="#0a1a9a" stroke-width="2.4" stroke-linejoin="round"/>
<line x1="349" y1="472.4" x2="356" y2="472.4" stroke="#ff1010" stroke-width="1.3"/>
<line x1="356" y1="470.5" x2="361.5" y2="470.5" stroke="#ff1010" stroke-width="1.3"/>
<line x1="361.5" y1="472.4" x2="368" y2="472.4" stroke="#ff1010" stroke-width="1.3"/>
<line x1="368" y1="487.5" x2="374.7" y2="487.5" stroke="#ff1010" stroke-width="1.3"/>
<line x1="374.7" y1="480" x2="380.7" y2="480" stroke="#ff1010" stroke-width="1.3"/>
<line x1="380.7" y1="468.3" x2="387.6" y2="468.3" stroke="#ff1010" stroke-width="1.3"/>
<line x1="387.6" y1="457.3" x2="394" y2="457.3" stroke="#ff1010" stroke-width="1.3"/>
<line x1="394" y1="454" x2="400" y2="454" stroke="#ff1010" stroke-width="1.3"/>
<line x1="400" y1="446.3" x2="406.8" y2="446.3" stroke="#ff1010" stroke-width="1.3"/>
<line x1="406.8" y1="444.4" x2="412.3" y2="444.4" stroke="#ff1010" stroke-width="1.3"/>
<line x1="412.3" y1="447.1" x2="419.2" y2="447.1" stroke="#ff1010" stroke-width="1.3"/>
<line x1="419.2" y1="454.5" x2="424.7" y2="454.5" stroke="#ff1010" stroke-width="1.3"/>
<line x1="424.7" y1="455.4" x2="431.5" y2="455.4" stroke="#ff1010" stroke-width="1.3"/>
<line x1="431.5" y1="463.6" x2="438.4" y2="463.6" stroke="#ff1010" stroke-width="1.3"/>
<line x1="438.4" y1="466.3" x2="445.3" y2="466.3" stroke="#ff1010" stroke-width="1.3"/>
<line x1="445.3" y1="479.3" x2="452.1" y2="479.3" stroke="#ff1010" stroke-width="1.3"/>
<line x1="452.1" y1="488.3" x2="457.6" y2="488.3" stroke="#ff1010" stroke-width="1.3"/>
<line x1="457.6" y1="490.5" x2="463.7" y2="490.5" stroke="#ff1010" stroke-width="1.3"/>
<line x1="463.7" y1="488.3" x2="470" y2="488.3" stroke="#ff1010" stroke-width="1.3"/>
<line x1="470" y1="487" x2="476.9" y2="487" stroke="#ff1010" stroke-width="1.3"/>
<line x1="476.9" y1="484.2" x2="483.7" y2="484.2" stroke="#ff1010" stroke-width="1.3"/>
<line x1="483.7" y1="480.6" x2="490.6" y2="480.6" stroke="#ff1010" stroke-width="1.3"/>
<line x1="490.6" y1="476.5" x2="496.1" y2="476.5" stroke="#ff1010" stroke-width="1.3"/>
<line x1="496.1" y1="478.2" x2="503" y2="478.2" stroke="#ff1010" stroke-width="1.3"/>
<line x1="503" y1="475.4" x2="515.3" y2="475.4" stroke="#ff1010" stroke-width="1.3"/>
<line x1="515.3" y1="479.3" x2="522.2" y2="479.3" stroke="#ff1010" stroke-width="1.3"/>
<line x1="522.2" y1="476" x2="534.6" y2="476" stroke="#ff1010" stroke-width="1.3"/>
<line x1="534.6" y1="474.6" x2="540.6" y2="474.6" stroke="#ff1010" stroke-width="1.3"/>
<line x1="540.6" y1="477.3" x2="548.3" y2="477.3" stroke="#ff1010" stroke-width="1.3"/>
<line x1="548.3" y1="466.3" x2="553.8" y2="466.3" stroke="#ff1010" stroke-width="1.3"/>
<line x1="553.8" y1="458.6" x2="559.3" y2="458.6" stroke="#ff1010" stroke-width="1.3"/>
<line x1="559.3" y1="457.3" x2="566.2" y2="457.3" stroke="#ff1010" stroke-width="1.3"/>
<line x1="566.2" y1="459.5" x2="573" y2="459.5" stroke="#ff1010" stroke-width="1.3"/>
<line x1="573" y1="462.2" x2="579.9" y2="462.2" stroke="#ff1010" stroke-width="1.3"/>
<line x1="579.9" y1="465.5" x2="586.8" y2="465.5" stroke="#ff1010" stroke-width="1.3"/>
<line x1="586.8" y1="470.5" x2="592.3" y2="470.5" stroke="#ff1010" stroke-width="1.3"/>
<line x1="592.3" y1="478.5" x2="598" y2="478.5" stroke="#ff1010" stroke-width="1.3"/>
<line x1="598" y1="478.2" x2="604" y2="478.2" stroke="#ff1010" stroke-width="1.3"/>
<line x1="604" y1="479" x2="611" y2="479" stroke="#ff1010" stroke-width="1.3"/>
<line x1="611" y1="477.7" x2="618" y2="477.7" stroke="#ff1010" stroke-width="1.3"/>
<line x1="618" y1="472.6" x2="625" y2="472.6" stroke="#ff1010" stroke-width="1.3"/>
<line x1="625" y1="468.4" x2="630.6" y2="468.4" stroke="#ff1010" stroke-width="1.3"/>
<line x1="630.6" y1="462.3" x2="643.2" y2="462.3" stroke="#ff1010" stroke-width="1.3"/>
<line x1="643.2" y1="466.2" x2="655.8" y2="466.2" stroke="#ff1010" stroke-width="1.3"/>
<line x1="655.8" y1="470.4" x2="662.8" y2="470.4" stroke="#ff1010" stroke-width="1.3"/>
<line x1="662.8" y1="467.6" x2="669.9" y2="467.6" stroke="#ff1010" stroke-width="1.3"/>
<line x1="669.9" y1="468.4" x2="676.9" y2="468.4" stroke="#ff1010" stroke-width="1.3"/>
<line x1="676.9" y1="469.3" x2="686.7" y2="469.3" stroke="#ff1010" stroke-width="1.3"/>
<line x1="686.7" y1="465.6" x2="695" y2="465.6" stroke="#ff1010" stroke-width="1.3"/>
<line x1="695" y1="468.4" x2="700.7" y2="468.4" stroke="#ff1010" stroke-width="1.3"/>
<line x1="700.7" y1="469.3" x2="706.3" y2="469.3" stroke="#ff1010" stroke-width="1.3"/>
<line x1="706.3" y1="463.4" x2="713.3" y2="463.4" stroke="#ff1010" stroke-width="1.3"/>
<line x1="713.3" y1="457.2" x2="720.3" y2="457.2" stroke="#ff1010" stroke-width="1.3"/>
<line x1="720.3" y1="455" x2="727.3" y2="455" stroke="#ff1010" stroke-width="1.3"/>
<line x1="727.3" y1="458.6" x2="732.9" y2="458.6" stroke="#ff1010" stroke-width="1.3"/>
<line x1="732.9" y1="462.3" x2="738.5" y2="462.3" stroke="#ff1010" stroke-width="1.3"/>
<line x1="738.5" y1="467.6" x2="745.5" y2="467.6" stroke="#ff1010" stroke-width="1.3"/>
<line x1="745.5" y1="472.1" x2="752.5" y2="472.1" stroke="#ff1010" stroke-width="1.3"/>
<line x1="752.5" y1="467.6" x2="758.1" y2="467.6" stroke="#ff1010" stroke-width="1.3"/>
<line x1="758.1" y1="476.3" x2="765.1" y2="476.3" stroke="#ff1010" stroke-width="1.3"/>
<line x1="765.1" y1="480.2" x2="770.7" y2="480.2" stroke="#ff1010" stroke-width="1.3"/>
<line x1="770.7" y1="477.4" x2="777.7" y2="477.4" stroke="#ff1010" stroke-width="1.3"/>
<line x1="777.7" y1="473.5" x2="783.3" y2="473.5" stroke="#ff1010" stroke-width="1.3"/>
<line x1="783.3" y1="476.8" x2="790.3" y2="476.8" stroke="#ff1010" stroke-width="1.3"/>
<line x1="790.3" y1="479.6" x2="797.3" y2="479.6" stroke="#ff1010" stroke-width="1.3"/>
<line x1="797.3" y1="486.6" x2="802.9" y2="486.6" stroke="#ff1010" stroke-width="1.3"/>
<line x1="802.9" y1="490.8" x2="810" y2="490.8" stroke="#ff1010" stroke-width="1.3"/>
<line x1="810" y1="487.5" x2="817" y2="487.5" stroke="#ff1010" stroke-width="1.3"/>
<line x1="817" y1="486.1" x2="822.6" y2="486.1" stroke="#ff1010" stroke-width="1.3"/>
<line x1="822.6" y1="487.5" x2="829.6" y2="487.5" stroke="#ff1010" stroke-width="1.3"/>
<line x1="829.6" y1="494.2" x2="840.8" y2="494.2" stroke="#ff1010" stroke-width="1.3"/>
<rect x="348.5" y="437.5" width="493" height="78" fill="none" stroke="#222" stroke-width="1"/>
<line x1="348" y1="436.5" x2="842" y2="436.5" stroke="#8a8a8a" stroke-width="1"/>
<text x="344" y="442.3" font-size="11" fill="#000" text-anchor="end">10</text>
<text x="344" y="457.7" font-size="11" fill="#000" text-anchor="end">8</text>
<text x="344" y="473.1" font-size="11" fill="#000" text-anchor="end">6</text>
<text x="344" y="488.5" font-size="11" fill="#000" text-anchor="end">4</text>
<text x="344" y="503.90000000000003" font-size="11" fill="#000" text-anchor="end">2</text>
<text x="344" y="519.3" font-size="11" fill="#000" text-anchor="end">0</text>
<text x="850.5" y="442.3" font-size="11" fill="#000" text-anchor="middle">36</text>
<text x="850.5" y="457.7" font-size="11" fill="#000" text-anchor="middle">29</text>
<text x="850.5" y="473.1" font-size="11" fill="#000" text-anchor="middle">22</text>
<text x="850.5" y="488.5" font-size="11" fill="#000" text-anchor="middle">14</text>
<text x="850.5" y="503.90000000000003" font-size="11" fill="#000" text-anchor="middle">7</text>
<text x="850.5" y="519.3" font-size="11" fill="#000" text-anchor="middle">0</text>
<line x1="361.5" y1="521" x2="361.5" y2="551" stroke="#000" stroke-width="1" stroke-dasharray="2,2"/>
<line x1="380.5" y1="521" x2="380.5" y2="551" stroke="#000" stroke-width="1" stroke-dasharray="2,2"/>
<line x1="400.5" y1="521" x2="400.5" y2="551" stroke="#000" stroke-width="1" stroke-dasharray="2,2"/>
<line x1="419.5" y1="521" x2="419.5" y2="551" stroke="#000" stroke-width="1" stroke-dasharray="2,2"/>
<line x1="438.5" y1="521" x2="438.5" y2="551" stroke="#000" stroke-width="1" stroke-dasharray="2,2"/>
<line x1="457.5" y1="521" x2="457.5" y2="551" stroke="#000" stroke-width="1" stroke-dasharray="2,2"/>
<line x1="476.5" y1="521" x2="476.5" y2="551" stroke="#000" stroke-width="1" stroke-dasharray="2,2"/>
<line x1="495.5" y1="521" x2="495.5" y2="551" stroke="#000" stroke-width="1" stroke-dasharray="2,2"/>
<line x1="515.5" y1="521" x2="515.5" y2="551" stroke="#000" stroke-width="1" stroke-dasharray="2,2"/>
<line x1="534.5" y1="521" x2="534.5" y2="551" stroke="#000" stroke-width="1" stroke-dasharray="2,2"/>
<line x1="553.5" y1="521" x2="553.5" y2="551" stroke="#000" stroke-width="1" stroke-dasharray="2,2"/>
<line x1="572.5" y1="521" x2="572.5" y2="551" stroke="#000" stroke-width="1" stroke-dasharray="2,2"/>
<line x1="591.5" y1="521" x2="591.5" y2="551" stroke="#000" stroke-width="1" stroke-dasharray="2,2"/>
<line x1="610.5" y1="521" x2="610.5" y2="551" stroke="#000" stroke-width="1" stroke-dasharray="2,2"/>
<line x1="630.5" y1="521" x2="630.5" y2="551" stroke="#000" stroke-width="1" stroke-dasharray="2,2"/>
<line x1="649.5" y1="521" x2="649.5" y2="551" stroke="#000" stroke-width="1" stroke-dasharray="2,2"/>
<line x1="668.5" y1="521" x2="668.5" y2="551" stroke="#000" stroke-width="1" stroke-dasharray="2,2"/>
<line x1="687.5" y1="521" x2="687.5" y2="551" stroke="#000" stroke-width="1" stroke-dasharray="2,2"/>
<line x1="706.5" y1="521" x2="706.5" y2="551" stroke="#000" stroke-width="1" stroke-dasharray="2,2"/>
<line x1="725.5" y1="521" x2="725.5" y2="551" stroke="#000" stroke-width="1" stroke-dasharray="2,2"/>
<line x1="745.5" y1="521" x2="745.5" y2="551" stroke="#000" stroke-width="1" stroke-dasharray="2,2"/>
<line x1="764.5" y1="521" x2="764.5" y2="551" stroke="#000" stroke-width="1" stroke-dasharray="2,2"/>
<line x1="783.5" y1="521" x2="783.5" y2="551" stroke="#000" stroke-width="1" stroke-dasharray="2,2"/>
<line x1="802.5" y1="521" x2="802.5" y2="551" stroke="#000" stroke-width="1" stroke-dasharray="2,2"/>
<line x1="821.5" y1="521" x2="821.5" y2="551" stroke="#000" stroke-width="1" stroke-dasharray="2,2"/>
<line x1="347.1" y1="530.2" x2="348.7" y2="537.8" stroke="#0a10a0" stroke-width="1.5"/>
<polygon points="349.9,543.2 346.1,538.3 351.4,537.2" fill="#0a10a0"/>
<line x1="354.0" y1="530.2" x2="355.1" y2="537.8" stroke="#0a10a0" stroke-width="1.5"/>
<polygon points="355.8,543.2 352.4,538.2 357.7,537.4" fill="#0a10a0"/>
<line x1="361.5" y1="530.1" x2="361.3" y2="537.8" stroke="#0a10a0" stroke-width="1.5"/>
<polygon points="361.1,543.3 358.6,537.7 364.0,537.9" fill="#0a10a0"/>
<line x1="368.1" y1="530.1" x2="367.6" y2="537.8" stroke="#0a10a0" stroke-width="1.5"/>
<polygon points="367.3,543.3 364.9,537.6 370.3,538.0" fill="#0a10a0"/>
<line x1="373.3" y1="530.2" x2="374.2" y2="537.8" stroke="#0a10a0" stroke-width="1.5"/>
<polygon points="374.9,543.2 371.6,538.1 376.9,537.5" fill="#0a10a0"/>
<line x1="385.1" y1="532.0" x2="379.7" y2="537.5" stroke="#0a10a0" stroke-width="1.5"/>
<polygon points="375.9,541.4 377.8,535.6 381.7,539.4" fill="#0a10a0"/>
<line x1="393.4" y1="537.5" x2="385.8" y2="536.6" stroke="#0a10a0" stroke-width="1.5"/>
<polygon points="380.4,535.9 386.1,533.9 385.5,539.2" fill="#0a10a0"/>
<line x1="398.9" y1="540.1" x2="392.4" y2="536.1" stroke="#0a10a0" stroke-width="1.5"/>
<polygon points="387.7,533.3 393.8,533.8 391.0,538.4" fill="#0a10a0"/>
<line x1="404.6" y1="541.1" x2="398.9" y2="536.0" stroke="#0a10a0" stroke-width="1.5"/>
<polygon points="394.8,532.3 400.7,533.9 397.1,538.0" fill="#0a10a0"/>
<line x1="411.0" y1="541.1" x2="405.3" y2="536.0" stroke="#0a10a0" stroke-width="1.5"/>
<polygon points="401.2,532.3 407.1,534.0 403.5,538.0" fill="#0a10a0"/>
<line x1="416.8" y1="541.7" x2="411.8" y2="535.9" stroke="#0a10a0" stroke-width="1.5"/>
<polygon points="408.2,531.7 413.8,534.1 409.7,537.7" fill="#0a10a0"/>
<line x1="422.2" y1="542.4" x2="418.3" y2="535.7" stroke="#0a10a0" stroke-width="1.5"/>
<polygon points="415.6,531.0 420.7,534.4 416.0,537.1" fill="#0a10a0"/>
<line x1="427.6" y1="542.9" x2="424.9" y2="535.7" stroke="#0a10a0" stroke-width="1.5"/>
<polygon points="423.0,530.5 427.4,534.7 422.4,536.6" fill="#0a10a0"/>
<line x1="434.0" y1="542.9" x2="431.3" y2="535.7" stroke="#0a10a0" stroke-width="1.5"/>
<polygon points="429.4,530.5 433.9,534.7 428.8,536.6" fill="#0a10a0"/>
<line x1="440.7" y1="542.8" x2="437.7" y2="535.7" stroke="#0a10a0" stroke-width="1.5"/>
<polygon points="435.5,530.6 440.2,534.6 435.2,536.7" fill="#0a10a0"/>
<line x1="448.0" y1="542.3" x2="443.9" y2="535.8" stroke="#0a10a0" stroke-width="1.5"/>
<polygon points="441.0,531.1 446.2,534.3 441.6,537.2" fill="#0a10a0"/>
<line x1="455.1" y1="541.8" x2="450.2" y2="535.8" stroke="#0a10a0" stroke-width="1.5"/>
<polygon points="446.7,531.6 452.3,534.1 448.1,537.6" fill="#0a10a0"/>
<line x1="461.7" y1="541.6" x2="456.6" y2="535.9" stroke="#0a10a0" stroke-width="1.5"/>
<polygon points="452.9,531.8 458.6,534.1 454.6,537.7" fill="#0a10a0"/>
<line x1="467.3" y1="542.2" x2="463.1" y2="535.8" stroke="#0a10a0" stroke-width="1.5"/>
<polygon points="460.1,531.2 465.3,534.3 460.8,537.3" fill="#0a10a0"/>
<line x1="473.6" y1="542.3" x2="469.5" y2="535.8" stroke="#0a10a0" stroke-width="1.5"/>
<polygon points="466.6,531.1 471.8,534.3 467.2,537.2" fill="#0a10a0"/>
<line x1="478.8" y1="542.9" x2="476.1" y2="535.7" stroke="#0a10a0" stroke-width="1.5"/>
<polygon points="474.2,530.5 478.7,534.7 473.6,536.6" fill="#0a10a0"/>
<line x1="484.9" y1="543.0" x2="482.6" y2="535.7" stroke="#0a10a0" stroke-width="1.5"/>
<polygon points="480.9,530.4 485.1,534.8 480.0,536.5" fill="#0a10a0"/>
<line x1="490.3" y1="543.2" x2="489.1" y2="535.6" stroke="#0a10a0" stroke-width="1.5"/>
<polygon points="488.3,530.2 491.8,535.2 486.5,536.0" fill="#0a10a0"/>
<line x1="497.0" y1="543.2" x2="495.5" y2="535.6" stroke="#0a10a0" stroke-width="1.5"/>
<polygon points="494.4,530.2 498.1,535.1 492.8,536.2" fill="#0a10a0"/>
<line x1="502.8" y1="543.3" x2="502.0" y2="535.6" stroke="#0a10a0" stroke-width="1.5"/>
<polygon points="501.4,530.1 504.7,535.3 499.3,535.9" fill="#0a10a0"/>
<line x1="510.9" y1="542.8" x2="508.1" y2="535.7" stroke="#0a10a0" stroke-width="1.5"/>
<polygon points="506.1,530.6 510.6,534.7 505.6,536.7" fill="#0a10a0"/>
<line x1="517.3" y1="542.9" x2="514.5" y2="535.7" stroke="#0a10a0" stroke-width="1.5"/>
<polygon points="512.5,530.5 517.0,534.7 512.0,536.6" fill="#0a10a0"/>
<line x1="521.8" y1="543.3" x2="521.2" y2="535.6" stroke="#0a10a0" stroke-width="1.5"/>
<polygon points="520.8,530.1 523.9,535.4 518.5,535.8" fill="#0a10a0"/>
<line x1="530.2" y1="542.8" x2="527.3" y2="535.7" stroke="#0a10a0" stroke-width="1.5"/>
<polygon points="525.2,530.6 529.8,534.7 524.8,536.7" fill="#0a10a0"/>
<line x1="538.1" y1="542.0" x2="533.4" y2="535.8" stroke="#0a10a0" stroke-width="1.5"/>
<polygon points="530.1,531.4 535.6,534.2 531.3,537.4" fill="#0a10a0"/>
<line x1="544.7" y1="541.8" x2="539.8" y2="535.8" stroke="#0a10a0" stroke-width="1.5"/>
<polygon points="536.3,531.6 541.9,534.1 537.7,537.5" fill="#0a10a0"/>
<line x1="551.9" y1="541.0" x2="546.1" y2="536.0" stroke="#0a10a0" stroke-width="1.5"/>
<polygon points="541.9,532.4 547.8,533.9 544.3,538.0" fill="#0a10a0"/>
<line x1="559.6" y1="538.7" x2="552.3" y2="536.4" stroke="#0a10a0" stroke-width="1.5"/>
<polygon points="547.0,534.7 553.1,533.8 551.4,538.9" fill="#0a10a0"/>
<line x1="565.6" y1="539.6" x2="558.7" y2="536.2" stroke="#0a10a0" stroke-width="1.5"/>
<polygon points="553.8,533.8 559.9,533.8 557.5,538.6" fill="#0a10a0"/>
<line x1="571.5" y1="540.5" x2="565.2" y2="536.1" stroke="#0a10a0" stroke-width="1.5"/>
<polygon points="560.7,532.9 566.7,533.9 563.7,538.3" fill="#0a10a0"/>
<line x1="575.8" y1="542.4" x2="572.0" y2="535.7" stroke="#0a10a0" stroke-width="1.5"/>
<polygon points="569.2,531.0 574.3,534.4 569.6,537.1" fill="#0a10a0"/>
<line x1="581.5" y1="542.8" x2="578.5" y2="535.7" stroke="#0a10a0" stroke-width="1.5"/>
<polygon points="576.3,530.6 580.9,534.6 576.0,536.8" fill="#0a10a0"/>
<line x1="588.4" y1="542.5" x2="584.8" y2="535.7" stroke="#0a10a0" stroke-width="1.5"/>
<polygon points="582.2,530.9 587.2,534.5 582.4,537.0" fill="#0a10a0"/>
<line x1="596.4" y1="541.4" x2="590.9" y2="535.9" stroke="#0a10a0" stroke-width="1.5"/>
<polygon points="587.0,532.0 592.8,534.0 589.0,537.8" fill="#0a10a0"/>
<line x1="603.8" y1="540.0" x2="597.1" y2="536.2" stroke="#0a10a0" stroke-width="1.5"/>
<polygon points="592.4,533.4 598.5,533.8 595.8,538.5" fill="#0a10a0"/>
<line x1="611.1" y1="537.3" x2="603.4" y2="536.6" stroke="#0a10a0" stroke-width="1.5"/>
<polygon points="597.9,536.1 603.6,533.9 603.2,539.3" fill="#0a10a0"/>
<line x1="617.5" y1="536.9" x2="609.8" y2="536.7" stroke="#0a10a0" stroke-width="1.5"/>
<polygon points="604.3,536.5 609.9,534.0 609.7,539.4" fill="#0a10a0"/>
<line x1="623.5" y1="538.9" x2="616.3" y2="536.3" stroke="#0a10a0" stroke-width="1.5"/>
<polygon points="611.1,534.5 617.2,533.8 615.4,538.9" fill="#0a10a0"/>
<line x1="629.4" y1="540.0" x2="622.7" y2="536.2" stroke="#0a10a0" stroke-width="1.5"/>
<polygon points="618.0,533.4 624.1,533.8 621.4,538.5" fill="#0a10a0"/>
<line x1="635.8" y1="540.0" x2="629.1" y2="536.2" stroke="#0a10a0" stroke-width="1.5"/>
<polygon points="624.4,533.4 630.5,533.8 627.8,538.5" fill="#0a10a0"/>
<line x1="641.3" y1="541.3" x2="635.7" y2="535.9" stroke="#0a10a0" stroke-width="1.5"/>
<polygon points="631.7,532.1 637.6,534.0 633.8,537.9" fill="#0a10a0"/>
<line x1="646.9" y1="542.0" x2="642.2" y2="535.8" stroke="#0a10a0" stroke-width="1.5"/>
<polygon points="638.9,531.4 644.4,534.2 640.1,537.5" fill="#0a10a0"/>
<line x1="653.0" y1="542.2" x2="648.7" y2="535.8" stroke="#0a10a0" stroke-width="1.5"/>
<polygon points="645.6,531.2 650.9,534.3 646.4,537.3" fill="#0a10a0"/>
<line x1="657.9" y1="542.9" x2="655.3" y2="535.7" stroke="#0a10a0" stroke-width="1.5"/>
<polygon points="653.5,530.5 657.9,534.8 652.8,536.5" fill="#0a10a0"/>
<line x1="663.5" y1="543.2" x2="661.9" y2="535.6" stroke="#0a10a0" stroke-width="1.5"/>
<polygon points="660.7,530.2 664.5,535.1 659.2,536.2" fill="#0a10a0"/>
<line x1="670.2" y1="543.1" x2="668.2" y2="535.6" stroke="#0a10a0" stroke-width="1.5"/>
<polygon points="666.8,530.3 670.8,534.9 665.6,536.3" fill="#0a10a0"/>
<line x1="676.6" y1="543.1" x2="674.6" y2="535.6" stroke="#0a10a0" stroke-width="1.5"/>
<polygon points="673.2,530.3 677.2,535.0 672.0,536.3" fill="#0a10a0"/>
<line x1="683.3" y1="543.0" x2="681.0" y2="535.7" stroke="#0a10a0" stroke-width="1.5"/>
<polygon points="679.3,530.4 683.5,534.8 678.4,536.5" fill="#0a10a0"/>
<line x1="688.2" y1="543.3" x2="687.6" y2="535.6" stroke="#0a10a0" stroke-width="1.5"/>
<polygon points="687.2,530.1 690.3,535.4 684.9,535.8" fill="#0a10a0"/>
<line x1="694.8" y1="543.3" x2="694.0" y2="535.6" stroke="#0a10a0" stroke-width="1.5"/>
<polygon points="693.4,530.1 696.7,535.3 691.3,535.9" fill="#0a10a0"/>
<line x1="700.7" y1="543.3" x2="700.5" y2="535.6" stroke="#0a10a0" stroke-width="1.5"/>
<polygon points="700.3,530.1 703.2,535.5 697.8,535.7" fill="#0a10a0"/>
<line x1="706.1" y1="543.3" x2="707.0" y2="535.6" stroke="#0a10a0" stroke-width="1.5"/>
<polygon points="707.7,530.1 709.7,535.9 704.4,535.3" fill="#0a10a0"/>
<line x1="711.1" y1="542.9" x2="713.7" y2="535.7" stroke="#0a10a0" stroke-width="1.5"/>
<polygon points="715.5,530.5 716.2,536.6 711.1,534.8" fill="#0a10a0"/>
<line x1="717.7" y1="543.0" x2="720.0" y2="535.7" stroke="#0a10a0" stroke-width="1.5"/>
<polygon points="721.7,530.4 722.6,536.5 717.5,534.8" fill="#0a10a0"/>
<line x1="723.9" y1="542.9" x2="726.5" y2="535.7" stroke="#0a10a0" stroke-width="1.5"/>
<polygon points="728.3,530.5 729.0,536.6 723.9,534.8" fill="#0a10a0"/>
<line x1="728.7" y1="542.1" x2="733.1" y2="535.8" stroke="#0a10a0" stroke-width="1.5"/>
<polygon points="736.3,531.3 735.3,537.3 730.9,534.3" fill="#0a10a0"/>
<line x1="734.7" y1="541.8" x2="739.6" y2="535.8" stroke="#0a10a0" stroke-width="1.5"/>
<polygon points="743.1,531.6 741.7,537.6 737.5,534.1" fill="#0a10a0"/>
<line x1="740.1" y1="540.7" x2="746.2" y2="536.0" stroke="#0a10a0" stroke-width="1.5"/>
<polygon points="750.5,532.7 747.8,538.2 744.5,533.9" fill="#0a10a0"/>
<line x1="745.4" y1="538.7" x2="752.7" y2="536.4" stroke="#0a10a0" stroke-width="1.5"/>
<polygon points="758.0,534.7 753.6,538.9 751.9,533.8" fill="#0a10a0"/>
<line x1="756.0" y1="543.0" x2="758.5" y2="535.7" stroke="#0a10a0" stroke-width="1.5"/>
<polygon points="760.2,530.4 761.0,536.5 755.9,534.8" fill="#0a10a0"/>
<line x1="765.0" y1="543.3" x2="764.4" y2="535.6" stroke="#0a10a0" stroke-width="1.5"/>
<polygon points="764.0,530.1 767.1,535.4 761.7,535.8" fill="#0a10a0"/>
<line x1="771.6" y1="543.3" x2="770.8" y2="535.6" stroke="#0a10a0" stroke-width="1.5"/>
<polygon points="770.2,530.1 773.5,535.3 768.1,535.9" fill="#0a10a0"/>
<line x1="775.3" y1="543.0" x2="777.6" y2="535.7" stroke="#0a10a0" stroke-width="1.5"/>
<polygon points="779.3,530.4 780.2,536.5 775.1,534.8" fill="#0a10a0"/>
<line x1="780.2" y1="542.3" x2="784.3" y2="535.8" stroke="#0a10a0" stroke-width="1.5"/>
<polygon points="787.2,531.1 786.6,537.2 782.0,534.3" fill="#0a10a0"/>
<line x1="784.5" y1="540.2" x2="791.0" y2="536.1" stroke="#0a10a0" stroke-width="1.5"/>
<polygon points="795.7,533.2 792.5,538.4 789.6,533.8" fill="#0a10a0"/>
<line x1="791.2" y1="540.7" x2="797.4" y2="536.0" stroke="#0a10a0" stroke-width="1.5"/>
<polygon points="801.8,532.7 799.0,538.2 795.8,533.9" fill="#0a10a0"/>
<line x1="797.5" y1="540.6" x2="803.8" y2="536.1" stroke="#0a10a0" stroke-width="1.5"/>
<polygon points="808.3,532.8 805.4,538.2 802.2,533.9" fill="#0a10a0"/>
<line x1="804.0" y1="540.6" x2="810.2" y2="536.1" stroke="#0a10a0" stroke-width="1.5"/>
<polygon points="814.6,532.8 811.8,538.2 808.6,533.9" fill="#0a10a0"/>
<line x1="810.0" y1="540.1" x2="816.6" y2="536.1" stroke="#0a10a0" stroke-width="1.5"/>
<polygon points="821.4,533.3 818.0,538.5 815.3,533.8" fill="#0a10a0"/>
<line x1="816.5" y1="540.2" x2="823.0" y2="536.1" stroke="#0a10a0" stroke-width="1.5"/>
<polygon points="827.7,533.2 824.5,538.4 821.6,533.8" fill="#0a10a0"/>
<line x1="821.9" y1="536.5" x2="829.6" y2="536.7" stroke="#0a10a0" stroke-width="1.5"/>
<polygon points="835.1,536.9 829.5,539.4 829.7,534.0" fill="#0a10a0"/>
<line x1="831.6" y1="542.4" x2="835.5" y2="535.8" stroke="#0a10a0" stroke-width="1.5"/>
<polygon points="838.2,531.0 837.8,537.1 833.1,534.4" fill="#0a10a0"/>
<line x1="835.6" y1="540.0" x2="842.2" y2="536.1" stroke="#0a10a0" stroke-width="1.5"/>
<polygon points="847.0,533.4 843.6,538.5 840.9,533.8" fill="#0a10a0"/>
<rect x="348.5" y="521.5" width="493" height="30" fill="none" stroke="#333" stroke-width="1"/>
<line x1="348" y1="552" x2="842" y2="552" stroke="#777" stroke-width="1"/>
<rect x="349" y="559" width="492" height="77" fill="#87d3fa"/>
<rect x="349" y="559" width="23" height="77" fill="#7cbce8"/>
<rect x="450" y="559" width="75" height="77" fill="#7cbce8"/>
<rect x="603" y="559" width="76" height="77" fill="#7cbce8"/>
<rect x="757" y="559" width="75" height="77" fill="#7cbce8"/>
<line x1="348" y1="577.5" x2="841" y2="577.5" stroke="#000" stroke-width="1" stroke-dasharray="2,2"/>
<line x1="348" y1="597.5" x2="841" y2="597.5" stroke="#000" stroke-width="1" stroke-dasharray="2,2"/>
<line x1="348" y1="616.5" x2="841" y2="616.5" stroke="#000" stroke-width="1" stroke-dasharray="2,2"/>
<line x1="361.5" y1="558" x2="361.5" y2="636" stroke="#000" stroke-width="1" stroke-dasharray="2,2"/>
<line x1="380.5" y1="558" x2="380.5" y2="636" stroke="#000" stroke-width="1" stroke-dasharray="2,2"/>
<line x1="400.5" y1="558" x2="400.5" y2="636" stroke="#000" stroke-width="1" stroke-dasharray="2,2"/>
<line x1="419.5" y1="558" x2="419.5" y2="636" stroke="#000" stroke-width="1" stroke-dasharray="2,2"/>
<line x1="438.5" y1="558" x2="438.5" y2="636" stroke="#000" stroke-width="1" stroke-dasharray="2,2"/>
<line x1="457.5" y1="558" x2="457.5" y2="636" stroke="#000" stroke-width="1" stroke-dasharray="2,2"/>
<line x1="476.5" y1="558" x2="476.5" y2="636" stroke="#000" stroke-width="1" stroke-dasharray="2,2"/>
<line x1="495.5" y1="558" x2="495.5" y2="636" stroke="#000" stroke-width="1" stroke-dasharray="2,2"/>
<line x1="515.5" y1="558" x2="515.5" y2="636" stroke="#000" stroke-width="1" stroke-dasharray="2,2"/>
<line x1="534.5" y1="558" x2="534.5" y2="636" stroke="#000" stroke-width="1" stroke-dasharray="2,2"/>
<line x1="553.5" y1="558" x2="553.5" y2="636" stroke="#000" stroke-width="1" stroke-dasharray="2,2"/>
<line x1="572.5" y1="558" x2="572.5" y2="636" stroke="#000" stroke-width="1" stroke-dasharray="2,2"/>
<line x1="591.5" y1="558" x2="591.5" y2="636" stroke="#000" stroke-width="1" stroke-dasharray="2,2"/>
<line x1="610.5" y1="558" x2="610.5" y2="636" stroke="#000" stroke-width="1" stroke-dasharray="2,2"/>
<line x1="630.5" y1="558" x2="630.5" y2="636" stroke="#000" stroke-width="1" stroke-dasharray="2,2"/>
<line x1="649.5" y1="558" x2="649.5" y2="636" stroke="#000" stroke-width="1" stroke-dasharray="2,2"/>
<line x1="668.5" y1="558" x2="668.5" y2="636" stroke="#000" stroke-width="1" stroke-dasharray="2,2"/>
<line x1="687.5" y1="558" x2="687.5" y2="636" stroke="#000" stroke-width="1" stroke-dasharray="2,2"/>
<line x1="706.5" y1="558" x2="706.5" y2="636" stroke="#000" stroke-width="1" stroke-dasharray="2,2"/>
<line x1="725.5" y1="558" x2="725.5" y2="636" stroke="#000" stroke-width="1" stroke-dasharray="2,2"/>
<line x1="745.5" y1="558" x2="745.5" y2="636" stroke="#000" stroke-width="1" stroke-dasharray="2,2"/>
<line x1="764.5" y1="558" x2="764.5" y2="636" stroke="#000" stroke-width="1" stroke-dasharray="2,2"/>
<line x1="783.5" y1="558" x2="783.5" y2="636" stroke="#000" stroke-width="1" stroke-dasharray="2,2"/>
<line x1="802.5" y1="558" x2="802.5" y2="636" stroke="#000" stroke-width="1" stroke-dasharray="2,2"/>
<line x1="821.5" y1="558" x2="821.5" y2="636" stroke="#000" stroke-width="1" stroke-dasharray="2,2"/>
<clipPath id="cC"><rect x="349" y="559" width="492" height="77"/></clipPath>
<g clip-path="url(#cC)">
<polyline points="345.5,582.9 348.5,583.2 361.7,588.7 380.2,589.0 387.2,593.1 399.5,572.3 408.3,570.6 418.8,569.7 429.4,570.2 438.2,571.1 450.5,574.1 461.0,578.5 469.8,580.8 478.6,578.5 494.5,576.7 500.0,576.7 513.8,577.7 527.7,584.6 539.6,577.7 553.4,572.8 571.2,570.4 587.0,572.8 602.8,576.7 616.7,581.1 624.6,579.7 644.4,581.1 658.2,583.7 668.1,587.0 679.9,586.6 689.8,583.7 703.6,581.7 713.5,575.7 729.3,572.4 745.2,572.8 763.0,576.7 776.8,586.6 788.7,584.2 796.6,587.0 804.5,584.6 814.4,587.0 826.2,591.6 834.2,592.6 841.1,588.2 844.1,586.6" fill="none" stroke="#ff9900" stroke-width="2.4" stroke-linejoin="round"/>
<circle cx="348.5" cy="570.2" r="3.2" fill="#a51c1c"/>
<circle cx="412.7" cy="570.6" r="3.2" fill="#a51c1c"/>
<circle cx="418.8" cy="569.7" r="3.2" fill="#a51c1c"/>
<circle cx="425.4" cy="569.7" r="3.2" fill="#a51c1c"/>
<circle cx="431.5" cy="569.7" r="3.2" fill="#a51c1c"/>
<circle cx="438.2" cy="570.6" r="3.2" fill="#a51c1c"/>
<circle cx="444.3" cy="571.1" r="3.2" fill="#a51c1c"/>
<circle cx="450.5" cy="570.6" r="3.2" fill="#a51c1c"/>
<circle cx="457.0" cy="569.7" r="3.2" fill="#a51c1c"/>
<circle cx="463.7" cy="573.2" r="3.2" fill="#ffffff"/>
<circle cx="367.9" cy="596.1" r="3.2" fill="#a51c1c"/>
<circle cx="374.0" cy="595.5" r="3.2" fill="#a51c1c"/>
<circle cx="380.2" cy="596.1" r="3.2" fill="#a51c1c"/>
<circle cx="387.2" cy="598.4" r="3.2" fill="#a51c1c"/>
<circle cx="393.4" cy="599.6" r="3.2" fill="#a51c1c"/>
<circle cx="400.0" cy="600.5" r="3.2" fill="#a51c1c"/>
<circle cx="406.5" cy="601.4" r="3.2" fill="#a51c1c"/>
<circle cx="374.0" cy="599.1" r="3.2" fill="#555555"/>
<circle cx="380.2" cy="610.1" r="3.2" fill="#858585"/>
<circle cx="387.2" cy="607.2" r="3.2" fill="#858585"/>
<circle cx="380.2" cy="604.5" r="3.2" fill="#000000"/>
<circle cx="387.2" cy="604.0" r="3.2" fill="#000000"/>
<circle cx="393.4" cy="602.8" r="3.2" fill="#000000"/>
<circle cx="406.5" cy="603.5" r="3.2" fill="#000000"/>
<circle cx="412.7" cy="604.0" r="3.2" fill="#000000"/>
<circle cx="418.8" cy="604.3" r="3.2" fill="#000000"/>
<circle cx="425.4" cy="603.6" r="3.2" fill="#000000"/>
<circle cx="444.3" cy="606.6" r="3.2" fill="#000000"/>
<circle cx="431.7" cy="604.0" r="3.2" fill="#858585"/>
<circle cx="438.2" cy="604.0" r="3.2" fill="#858585"/>
<circle cx="450.5" cy="606.6" r="3.2" fill="#c8c8c8"/>
<circle cx="457.5" cy="609.6" r="3.2" fill="#ffffff"/>
<circle cx="483.0" cy="606.6" r="3.2" fill="#ffffff"/>
<circle cx="380.2" cy="618.4" r="3.2" fill="#c8c8c8"/>
<circle cx="387.2" cy="622.5" r="3.2" fill="#c8c8c8"/>
<circle cx="393.4" cy="618.1" r="3.2" fill="#555555"/>
<circle cx="400.0" cy="615.4" r="3.2" fill="#000000"/>
<circle cx="406.5" cy="614.5" r="3.2" fill="#555555"/>
<circle cx="412.7" cy="614.9" r="3.2" fill="#ffffff"/>
<circle cx="418.8" cy="613.7" r="3.2" fill="#ffffff"/>
<circle cx="425.4" cy="611.0" r="3.2" fill="#858585"/>
<circle cx="431.7" cy="609.6" r="3.2" fill="#858585"/>
<circle cx="438.2" cy="612.8" r="3.2" fill="#c8c8c8"/>
<circle cx="444.3" cy="615.4" r="3.2" fill="#ffffff"/>
<circle cx="450.5" cy="614.2" r="3.2" fill="#ffffff"/>
<circle cx="387.2" cy="627.7" r="3.2" fill="#ffffff"/>
<circle cx="393.4" cy="627.7" r="3.2" fill="#ffffff"/>
<circle cx="400.0" cy="625.1" r="3.2" fill="#ffffff"/>
<circle cx="406.5" cy="623.3" r="3.2" fill="#ffffff"/>
<circle cx="355.2" cy="627.7" r="3.2" fill="#a51c1c"/>
<circle cx="361.7" cy="626.5" r="3.2" fill="#a51c1c"/>
<circle cx="348.5" cy="631.6" r="3.2" fill="#ffffff"/>
<circle cx="355.2" cy="632.5" r="3.2" fill="#ffffff"/>
<circle cx="361.7" cy="632.5" r="3.2" fill="#ffffff"/>
<circle cx="367.9" cy="631.2" r="3.2" fill="#c8c8c8"/>
<circle cx="374.0" cy="632.1" r="3.2" fill="#ffffff"/>
<circle cx="380.2" cy="630.0" r="3.2" fill="#ffffff"/>
<circle cx="514.8" cy="567.8" r="3.2" fill="#a51c1c"/>
<circle cx="521.4" cy="568.4" r="3.2" fill="#a51c1c"/>
<circle cx="527.7" cy="568.4" r="3.2" fill="#a51c1c"/>
<circle cx="534.2" cy="568.4" r="3.2" fill="#a51c1c"/>
<circle cx="514.8" cy="571.8" r="3.2" fill="#ffffff"/>
<circle cx="521.4" cy="573.8" r="3.2" fill="#ffffff"/>
<circle cx="527.7" cy="574.4" r="3.2" fill="#ffffff"/>
<circle cx="534.2" cy="574.8" r="3.2" fill="#ffffff"/>
<circle cx="540.5" cy="604.8" r="3.2" fill="#a51c1c"/>
<circle cx="547.1" cy="601.5" r="3.2" fill="#a51c1c"/>
<circle cx="553.4" cy="600.9" r="3.2" fill="#a51c1c"/>
<circle cx="559.3" cy="600.9" r="3.2" fill="#a51c1c"/>
<circle cx="566.3" cy="600.9" r="3.2" fill="#a51c1c"/>
<circle cx="572.6" cy="600.9" r="3.2" fill="#a51c1c"/>
<circle cx="578.7" cy="600.9" r="3.2" fill="#a51c1c"/>
<circle cx="585.4" cy="600.9" r="3.2" fill="#a51c1c"/>
<circle cx="591.6" cy="600.9" r="3.2" fill="#a51c1c"/>
<circle cx="598.3" cy="600.9" r="3.2" fill="#a51c1c"/>
<circle cx="604.8" cy="600.9" r="3.2" fill="#a51c1c"/>
<circle cx="553.4" cy="602.8" r="3.2" fill="#555555"/>
<circle cx="559.3" cy="602.8" r="3.2" fill="#555555"/>
<circle cx="566.3" cy="602.8" r="3.2" fill="#000000"/>
<circle cx="572.6" cy="602.8" r="3.2" fill="#000000"/>
<circle cx="578.7" cy="602.8" r="3.2" fill="#000000"/>
<circle cx="585.4" cy="602.8" r="3.2" fill="#000000"/>
<circle cx="591.6" cy="603.4" r="3.2" fill="#858585"/>
<circle cx="598.3" cy="603.4" r="3.2" fill="#c8c8c8"/>
<circle cx="604.8" cy="603.4" r="3.2" fill="#858585"/>
<circle cx="610.8" cy="602.8" r="3.2" fill="#858585"/>
<circle cx="540.5" cy="608.4" r="3.2" fill="#ffffff"/>
<circle cx="547.1" cy="608.4" r="3.2" fill="#ffffff"/>
<circle cx="553.4" cy="608.4" r="3.2" fill="#ffffff"/>
<circle cx="559.3" cy="609.0" r="3.2" fill="#ffffff"/>
<circle cx="566.3" cy="609.4" r="3.2" fill="#ffffff"/>
<circle cx="572.6" cy="610.4" r="3.2" fill="#ffffff"/>
<circle cx="578.7" cy="609.4" r="3.2" fill="#ffffff"/>
<circle cx="585.4" cy="610.8" r="3.2" fill="#ffffff"/>
<circle cx="591.6" cy="611.9" r="3.2" fill="#ffffff"/>
<circle cx="598.3" cy="611.9" r="3.2" fill="#ffffff"/>
<circle cx="604.8" cy="610.4" r="3.2" fill="#ffffff"/>
<circle cx="610.8" cy="610.4" r="3.2" fill="#ffffff"/>
<circle cx="617.7" cy="610.4" r="3.2" fill="#ffffff"/>
<circle cx="623.6" cy="610.4" r="3.2" fill="#ffffff"/>
<circle cx="630.5" cy="609.4" r="3.2" fill="#ffffff"/>
<circle cx="636.5" cy="608.8" r="3.2" fill="#ffffff"/>
<circle cx="642.8" cy="606.8" r="3.2" fill="#ffffff"/>
<circle cx="649.3" cy="604.0" r="3.2" fill="#ffffff"/>
<circle cx="655.7" cy="606.0" r="3.2" fill="#ffffff"/>
<circle cx="662.2" cy="611.3" r="3.2" fill="#ffffff"/>
<circle cx="668.1" cy="610.0" r="3.2" fill="#ffffff"/>
<circle cx="674.4" cy="610.4" r="3.2" fill="#ffffff"/>
<circle cx="617.7" cy="600.1" r="3.2" fill="#a51c1c"/>
<circle cx="623.6" cy="600.9" r="3.2" fill="#c8c8c8"/>
<circle cx="636.5" cy="602.1" r="3.2" fill="#c8c8c8"/>
<circle cx="642.8" cy="602.1" r="3.2" fill="#c8c8c8"/>
<circle cx="629.5" cy="599.5" r="3.2" fill="#000000"/>
<circle cx="636.5" cy="597.5" r="3.2" fill="#000000"/>
<circle cx="642.8" cy="596.1" r="3.2" fill="#000000"/>
<circle cx="649.3" cy="596.9" r="3.2" fill="#000000"/>
<circle cx="655.7" cy="597.5" r="3.2" fill="#000000"/>
<circle cx="662.2" cy="598.1" r="3.2" fill="#000000"/>
<circle cx="668.5" cy="598.5" r="3.2" fill="#000000"/>
<circle cx="674.4" cy="600.1" r="3.2" fill="#000000"/>
<circle cx="649.3" cy="587.6" r="3.2" fill="#a51c1c"/>
<circle cx="655.7" cy="587.6" r="3.2" fill="#a51c1c"/>
<circle cx="662.2" cy="586.6" r="3.2" fill="#a51c1c"/>
<circle cx="668.5" cy="587.0" r="3.2" fill="#a51c1c"/>
<circle cx="674.4" cy="586.6" r="3.2" fill="#a51c1c"/>
<circle cx="670.0" cy="585.6" r="3.2" fill="#a51c1c"/>
<circle cx="674.9" cy="585.0" r="3.2" fill="#a51c1c"/>
<circle cx="680.9" cy="584.6" r="3.2" fill="#a51c1c"/>
<circle cx="687.8" cy="585.6" r="3.2" fill="#a51c1c"/>
<circle cx="694.1" cy="586.6" r="3.2" fill="#a51c1c"/>
<circle cx="700.3" cy="588.6" r="3.2" fill="#a51c1c"/>
<circle cx="725.8" cy="600.5" r="3.2" fill="#858585"/>
<circle cx="732.3" cy="600.5" r="3.2" fill="#858585"/>
<circle cx="738.8" cy="601.5" r="3.2" fill="#c8c8c8"/>
<circle cx="745.2" cy="601.5" r="3.2" fill="#000000"/>
<circle cx="751.5" cy="601.5" r="3.2" fill="#858585"/>
<circle cx="758.0" cy="602.4" r="3.2" fill="#c8c8c8"/>
<circle cx="776.8" cy="603.4" r="3.2" fill="#c8c8c8"/>
<circle cx="783.7" cy="605.4" r="3.2" fill="#c8c8c8"/>
<circle cx="789.7" cy="604.8" r="3.2" fill="#c8c8c8"/>
<circle cx="796.6" cy="603.4" r="3.2" fill="#858585"/>
<circle cx="802.9" cy="605.4" r="3.2" fill="#858585"/>
<circle cx="674.9" cy="600.5" r="3.2" fill="#000000"/>
<circle cx="680.9" cy="596.1" r="3.2" fill="#000000"/>
<circle cx="687.8" cy="596.1" r="3.2" fill="#000000"/>
<circle cx="694.1" cy="596.1" r="3.2" fill="#000000"/>
<circle cx="700.3" cy="596.1" r="3.2" fill="#000000"/>
<circle cx="706.6" cy="594.9" r="3.2" fill="#000000"/>
<circle cx="713.1" cy="595.5" r="3.2" fill="#000000"/>
<circle cx="719.4" cy="595.5" r="3.2" fill="#000000"/>
<circle cx="725.8" cy="595.5" r="3.2" fill="#858585"/>
<circle cx="732.3" cy="595.5" r="3.2" fill="#000000"/>
<circle cx="738.8" cy="594.9" r="3.2" fill="#858585"/>
<circle cx="751.5" cy="594.5" r="3.2" fill="#a51c1c"/>
<circle cx="751.5" cy="597.5" r="3.2" fill="#000000"/>
<circle cx="758.0" cy="594.9" r="3.2" fill="#000000"/>
<circle cx="764.5" cy="594.5" r="3.2" fill="#000000"/>
<circle cx="770.9" cy="594.9" r="3.2" fill="#858585"/>
<circle cx="777.2" cy="594.9" r="3.2" fill="#858585"/>
<circle cx="783.7" cy="594.9" r="3.2" fill="#000000"/>
<circle cx="789.7" cy="594.5" r="3.2" fill="#c87878"/>
<circle cx="796.6" cy="597.5" r="3.2" fill="#858585"/>
<circle cx="802.9" cy="596.9" r="3.2" fill="#000000"/>
<circle cx="809.4" cy="606.0" r="3.2" fill="#000000"/>
<circle cx="815.4" cy="601.5" r="3.2" fill="#000000"/>
<circle cx="821.9" cy="598.5" r="3.2" fill="#858585"/>
<circle cx="828.2" cy="600.5" r="3.2" fill="#858585"/>
<circle cx="834.6" cy="600.5" r="3.2" fill="#858585"/>
<circle cx="840.5" cy="600.5" r="3.2" fill="#c8c8c8"/>
<circle cx="670.0" cy="610.4" r="3.2" fill="#ffffff"/>
<circle cx="674.9" cy="610.4" r="3.2" fill="#ffffff"/>
<circle cx="680.9" cy="608.4" r="3.2" fill="#ffffff"/>
<circle cx="687.8" cy="606.4" r="3.2" fill="#ffffff"/>
<circle cx="694.1" cy="606.4" r="3.2" fill="#ffffff"/>
<circle cx="700.3" cy="606.4" r="3.2" fill="#ffffff"/>
<circle cx="706.6" cy="607.4" r="3.2" fill="#ffffff"/>
<circle cx="713.1" cy="606.4" r="3.2" fill="#ffffff"/>
<circle cx="719.4" cy="610.4" r="3.2" fill="#ffffff"/>
<circle cx="725.8" cy="611.3" r="3.2" fill="#ffffff"/>
<circle cx="732.3" cy="611.3" r="3.2" fill="#ffffff"/>
<circle cx="738.8" cy="610.8" r="3.2" fill="#ffffff"/>
<circle cx="745.2" cy="611.9" r="3.2" fill="#ffffff"/>
<circle cx="751.5" cy="611.3" r="3.2" fill="#ffffff"/>
<circle cx="758.0" cy="610.0" r="3.2" fill="#ffffff"/>
<circle cx="764.5" cy="610.0" r="3.2" fill="#ffffff"/>
<circle cx="770.9" cy="609.4" r="3.2" fill="#ffffff"/>
<circle cx="777.2" cy="610.0" r="3.2" fill="#ffffff"/>
<circle cx="783.7" cy="610.8" r="3.2" fill="#ffffff"/>
<circle cx="789.7" cy="610.0" r="3.2" fill="#ffffff"/>
<circle cx="796.6" cy="609.4" r="3.2" fill="#ffffff"/>
<circle cx="802.9" cy="613.3" r="3.2" fill="#ffffff"/>
<circle cx="809.4" cy="613.3" r="3.2" fill="#ffffff"/>
<circle cx="815.4" cy="613.9" r="3.2" fill="#ffffff"/>
<circle cx="821.9" cy="609.4" r="3.2" fill="#ffffff"/>
<circle cx="828.2" cy="613.3" r="3.2" fill="#ffffff"/>
<circle cx="745.2" cy="570.8" r="3.2" fill="#a51c1c"/>
<circle cx="796.6" cy="569.8" r="3.2" fill="#a51c1c"/>
<circle cx="802.5" cy="569.8" r="3.2" fill="#a51c1c"/>
<circle cx="809.4" cy="571.2" r="3.2" fill="#a51c1c"/>
<circle cx="815.4" cy="571.2" r="3.2" fill="#a51c1c"/>
<circle cx="821.9" cy="571.2" r="3.2" fill="#a51c1c"/>
<circle cx="828.2" cy="571.2" r="3.2" fill="#a51c1c"/>
<circle cx="834.6" cy="571.2" r="3.2" fill="#a51c1c"/>
<circle cx="841.1" cy="571.8" r="3.2" fill="#a51c1c"/>
<circle cx="834.2" cy="631.1" r="3.2" fill="#ffffff"/>
</g>
<path d="M348.5,558 V636.5 H841.5 V558" fill="none" stroke="#222" stroke-width="1"/>
<line x1="348" y1="558.5" x2="842" y2="558.5" stroke="#000" stroke-width="1" stroke-dasharray="2,2"/>
<text x="344" y="562.3" font-size="11" fill="#000" text-anchor="end">15.0</text>
<text x="344" y="581.8" font-size="11" fill="#000" text-anchor="end">7.0</text>
<text x="344" y="601.3" font-size="11" fill="#000" text-anchor="end">2.0</text>
<text x="344" y="620.8" font-size="11" fill="#000" text-anchor="end">0.5</text>
<text x="344" y="640.3" font-size="11" fill="#000" text-anchor="end">0.0</text>
<text x="844" y="562.3" font-size="11" fill="#ff8000">100</text>
<text x="844" y="581.8" font-size="11" fill="#ff8000">20</text>
<text x="844" y="601.3" font-size="11" fill="#ff8000">5</text>
<text x="844" y="620.8" font-size="11" fill="#ff8000">1</text>
<text x="844" y="640.3" font-size="11" fill="#ff8000">0</text>
<rect x="349" y="646" width="492" height="14" fill="#87d3fa"/>
<rect x="349" y="646" width="23" height="14" fill="#7cbce8"/>
<rect x="450" y="646" width="75" height="14" fill="#7cbce8"/>
<rect x="603" y="646" width="76" height="14" fill="#7cbce8"/>
<rect x="757" y="646" width="75" height="14" fill="#7cbce8"/>
<polygon points="381.4,661 387,646 395.4,652 415,650 423.5,661" fill="#5a5a5a"/>
<polygon points="563.5,661 572,651 579,648 588.8,661" fill="#5a5a5a"/>
<polygon points="644,661 649.6,650 659.4,647.5 670.6,650 690,648 710,650 724,661" fill="#8c8c8c"/>
<line x1="361.5" y1="645" x2="361.5" y2="660" stroke="#000" stroke-width="1" stroke-dasharray="2,2"/>
<line x1="380.5" y1="645" x2="380.5" y2="660" stroke="#000" stroke-width="1" stroke-dasharray="2,2"/>
<line x1="400.5" y1="645" x2="400.5" y2="660" stroke="#000" stroke-width="1" stroke-dasharray="2,2"/>
<line x1="419.5" y1="645" x2="419.5" y2="660" stroke="#000" stroke-width="1" stroke-dasharray="2,2"/>
<line x1="438.5" y1="645" x2="438.5" y2="660" stroke="#000" stroke-width="1" stroke-dasharray="2,2"/>
<line x1="457.5" y1="645" x2="457.5" y2="660" stroke="#000" stroke-width="1" stroke-dasharray="2,2"/>
<line x1="476.5" y1="645" x2="476.5" y2="660" stroke="#000" stroke-width="1" stroke-dasharray="2,2"/>
<line x1="495.5" y1="645" x2="495.5" y2="660" stroke="#000" stroke-width="1" stroke-dasharray="2,2"/>
<line x1="515.5" y1="645" x2="515.5" y2="660" stroke="#000" stroke-width="1" stroke-dasharray="2,2"/>
<line x1="534.5" y1="645" x2="534.5" y2="660" stroke="#000" stroke-width="1" stroke-dasharray="2,2"/>
<line x1="553.5" y1="645" x2="553.5" y2="660" stroke="#000" stroke-width="1" stroke-dasharray="2,2"/>
<line x1="572.5" y1="645" x2="572.5" y2="660" stroke="#000" stroke-width="1" stroke-dasharray="2,2"/>
<line x1="591.5" y1="645" x2="591.5" y2="660" stroke="#000" stroke-width="1" stroke-dasharray="2,2"/>
<line x1="610.5" y1="645" x2="610.5" y2="660" stroke="#000" stroke-width="1" stroke-dasharray="2,2"/>
<line x1="630.5" y1="645" x2="630.5" y2="660" stroke="#000" stroke-width="1" stroke-dasharray="2,2"/>
<line x1="649.5" y1="645" x2="649.5" y2="660" stroke="#000" stroke-width="1" stroke-dasharray="2,2"/>
<line x1="668.5" y1="645" x2="668.5" y2="660" stroke="#000" stroke-width="1" stroke-dasharray="2,2"/>
<line x1="687.5" y1="645" x2="687.5" y2="660" stroke="#000" stroke-width="1" stroke-dasharray="2,2"/>
<line x1="706.5" y1="645" x2="706.5" y2="660" stroke="#000" stroke-width="1" stroke-dasharray="2,2"/>
<line x1="725.5" y1="645" x2="725.5" y2="660" stroke="#000" stroke-width="1" stroke-dasharray="2,2"/>
<line x1="745.5" y1="645" x2="745.5" y2="660" stroke="#000" stroke-width="1" stroke-dasharray="2,2"/>
<line x1="764.5" y1="645" x2="764.5" y2="660" stroke="#000" stroke-width="1" stroke-dasharray="2,2"/>
<line x1="783.5" y1="645" x2="783.5" y2="660" stroke="#000" stroke-width="1" stroke-dasharray="2,2"/>
<line x1="802.5" y1="645" x2="802.5" y2="660" stroke="#000" stroke-width="1" stroke-dasharray="2,2"/>
<line x1="821.5" y1="645" x2="821.5" y2="660" stroke="#000" stroke-width="1" stroke-dasharray="2,2"/>
<rect x="348.5" y="645.5" width="493" height="30" fill="none" stroke="#222" stroke-width="1"/>
<text x="344" y="651" font-size="11" fill="#000" text-anchor="end">8</text>
<text x="845" y="651" font-size="11" fill="#ff8000">1</text>
<text transform="translate(293,216.5) rotate(-90)" x="0" y="0" text-anchor="middle" font-size="12" fill="#1a1aa0" textLength="66" lengthAdjust="spacingAndGlyphs">temperatura</text>
<text transform="translate(305.5,216.9) rotate(-90)" x="0" y="0" text-anchor="middle" font-size="12" fill="#1a1aa0" textLength="20.6" lengthAdjust="spacingAndGlyphs">(°C)</text>
<text transform="translate(293,305.5) rotate(-90)" x="0" y="0" text-anchor="middle" font-size="12" fill="#1a1aa0" textLength="28" lengthAdjust="spacingAndGlyphs">opad</text>
<text transform="translate(305.8,304.8) rotate(-90)" x="0" y="0" text-anchor="middle" font-size="12" fill="#1a1aa0" textLength="85.5" lengthAdjust="spacingAndGlyphs">(mm/h, kg/m²/h)</text>
<text transform="translate(293,392.3) rotate(-90)" x="0" y="0" text-anchor="middle" font-size="12" fill="#1a1aa0" textLength="50.6" lengthAdjust="spacingAndGlyphs">ciśnienie</text>
<text transform="translate(306.5,393) rotate(-90)" x="0" y="0" text-anchor="middle" font-size="12" fill="#1a1aa0" textLength="29.4" lengthAdjust="spacingAndGlyphs">(hPa)</text>
<text transform="translate(293.5,481.7) rotate(-90)" x="0" y="0" text-anchor="middle" font-size="12" fill="#1a1aa0" textLength="25.5" lengthAdjust="spacingAndGlyphs">wiatr</text>
<text transform="translate(306,481.7) rotate(-90)" x="0" y="0" text-anchor="middle" font-size="12" fill="#1a1aa0" textLength="28.5" lengthAdjust="spacingAndGlyphs">(m/s)</text>
<text transform="translate(293,594) rotate(-90)" x="0" y="0" text-anchor="middle" font-size="12" fill="#1a1aa0">pion. rozciągł. chm.</text>
<text transform="translate(305.5,594) rotate(-90)" x="0" y="0" text-anchor="middle" font-size="12" fill="#1a1aa0">(km)</text>
<text transform="translate(293,653) rotate(-90)" x="0" y="0" text-anchor="end" font-size="12" fill="#1a1aa0">zachmurzenie</text>
<text transform="translate(893,217) rotate(-90)" x="0" y="0" text-anchor="middle" font-size="12" fill="#1a1aa0" textLength="21.8" lengthAdjust="spacingAndGlyphs">(°C)</text>
<text transform="translate(906,216.2) rotate(-90)" x="0" y="0" text-anchor="middle" font-size="12" fill="#1a1aa0" textLength="67" lengthAdjust="spacingAndGlyphs">temperatura</text>
<text transform="translate(893,291.5) rotate(-90)" x="0" y="0" text-anchor="middle" font-size="12" fill="#1a1aa0" textLength="19" lengthAdjust="spacingAndGlyphs">(%)</text>
<text transform="translate(906,304.6) rotate(-90)" x="0" y="0" text-anchor="middle" font-size="12" fill="#1a1aa0" textLength="89" lengthAdjust="spacingAndGlyphs">wilgotność wzgl.</text>
<text transform="translate(893,397) rotate(-90)" x="0" y="0" text-anchor="middle" font-size="12" fill="#1a1aa0" textLength="54" lengthAdjust="spacingAndGlyphs">(mm Hg)</text>
<text transform="translate(906,393) rotate(-90)" x="0" y="0" text-anchor="middle" font-size="12" fill="#1a1aa0" textLength="49" lengthAdjust="spacingAndGlyphs">ciśnienie</text>
<text transform="translate(893,479.5) rotate(-90)" x="0" y="0" text-anchor="middle" font-size="12" fill="#1a1aa0" textLength="31" lengthAdjust="spacingAndGlyphs">(km/h)</text>
<text transform="translate(906,481) rotate(-90)" x="0" y="0" text-anchor="middle" font-size="12" fill="#1a1aa0" textLength="24.6" lengthAdjust="spacingAndGlyphs">wiatr</text>
<text transform="translate(892,594.5) rotate(-90)" x="0" y="0" text-anchor="middle" font-size="12" fill="#1a1aa0" textLength="24.3" lengthAdjust="spacingAndGlyphs">(km)</text>
<text transform="translate(906,595.7) rotate(-90)" x="0" y="0" text-anchor="middle" font-size="12" fill="#1a1aa0" textLength="63" lengthAdjust="spacingAndGlyphs">widzialność</text>
<g fill="#1a1aa0" font-size="11.5">
<text x="283.7" y="539.5">W</text><text x="294.2" y="531">N</text><text x="301.7" y="539.7">E</text><text x="294.2" y="548">S</text>
</g>
<line x1="302.2" y1="523" x2="302.2" y2="539" stroke="#1a1aa0" stroke-width="1"/>
<line x1="294.2" y1="531.5" x2="309.2" y2="531.5" stroke="#1a1aa0" stroke-width="1"/>
<g fill="#1a1aa0" font-size="11.5">
<text x="883.0" y="540.0">W</text><text x="893.5" y="531.5">N</text><text x="901.0" y="540.2">E</text><text x="893.5" y="548.5">S</text>
</g>
<line x1="901.5" y1="523.5" x2="901.5" y2="539.5" stroke="#1a1aa0" stroke-width="1"/>
<line x1="893.5" y1="532.0" x2="908.5" y2="532.0" stroke="#1a1aa0" stroke-width="1"/>
<defs><linearGradient id="bg1" x1="0" y1="0" x2="1" y2="0"><stop offset="0" stop-color="#0f4a9f"/><stop offset="0.40" stop-color="#104ca2"/><stop offset="0.48" stop-color="#2a64b1"/><stop offset="0.56" stop-color="#3470b9"/><stop offset="0.70" stop-color="#3270b9"/><stop offset="0.80" stop-color="#2460ae"/><stop offset="1" stop-color="#1a54a6"/></linearGradient><radialGradient id="bg2" cx="0.5" cy="0.5" r="0.5"><stop offset="0" stop-color="#4c86c6" stop-opacity="0.5"/><stop offset="1" stop-color="#4c86c6" stop-opacity="0"/></radialGradient><linearGradient id="bg3" x1="0" y1="0" x2="0" y2="1"><stop offset="0" stop-color="#000" stop-opacity="0"/><stop offset="1" stop-color="#0a3a90" stop-opacity="0.35"/></linearGradient></defs>
<rect x="280" y="0" width="630" height="120" fill="url(#bg1)"/>
<rect x="620" y="-80" width="240" height="200" fill="url(#bg2)"/>
<text x="311.8" y="40" font-size="20" fill="#fff" textLength="156.8" lengthAdjust="spacingAndGlyphs">Oficjalna aplikacja</text>
<text x="311.8" y="67.4" font-size="20" fill="#fff" textLength="209.5" lengthAdjust="spacingAndGlyphs"><tspan font-weight="bold">Meteo ICM</tspan> do pobrania</text>
<text x="311.8" y="95.2" font-size="20" fill="#fff" textLength="225" lengthAdjust="spacingAndGlyphs">w Google Play i App Store</text>
<clipPath id="cBan"><rect x="280" y="0" width="630" height="120"/></clipPath>
<g clip-path="url(#cBan)">
<g transform="rotate(4 618 60)">
<rect x="592.5" y="7" width="51" height="130" rx="8" fill="#1b1b1b" stroke="#5a5a5a" stroke-width="1.3"/>
<rect x="595.5" y="10" width="45" height="125" rx="6" fill="#05080f"/>
<path d="M595.5,16 a6,6 0 0 1 6,-6 h33 a6,6 0 0 1 6,6 v38 h-45 z" fill="#0c2a56"/>
<rect x="614" y="11.5" width="12" height="3.5" rx="1.7" fill="#000"/>
<rect x="599" y="19.5" width="32" height="6" rx="1" fill="#040a18"/>
<circle cx="636" cy="23" r="2.6" fill="#040a18"/>
<text x="614" y="43.5" font-size="7" fill="#e8eef8">2.5°</text>
<path d="M605,40 a3,3 0 0 1 6,0 z" fill="none" stroke="#cdd" stroke-width="0.6"/>
<rect x="600" y="49" width="7" height="4" fill="#1a2f58"/><rect x="611" y="49" width="7" height="4" fill="#1a2f58"/>
<rect x="599" y="60" width="10" height="13" rx="1" fill="#151a22"/><rect x="611" y="60" width="10" height="13" rx="1" fill="#151a22"/>
<circle cx="604" cy="67" r="2" fill="#173a78"/>
<rect x="599" y="75" width="10" height="13" rx="1" fill="#151a22"/><rect x="611" y="75" width="10" height="13" rx="1" fill="#151a22"/>
<circle cx="604" cy="82" r="2" fill="#173a78"/>
<rect x="599" y="92" width="38" height="9" rx="1" fill="#12161d"/>
<rect x="599" y="104" width="38" height="9" rx="1" fill="#12161d"/>
<rect x="599" y="116" width="38" height="9" rx="1" fill="#12161d"/>
</g>
<g transform="rotate(-3 675 75)">
<rect x="649.5" y="22.5" width="50.5" height="115" rx="8" fill="#1d1d1d" stroke="#666" stroke-width="1.3"/>
<rect x="652.5" y="25.5" width="44.5" height="110" rx="6" fill="#393a36"/>
<ellipse cx="682" cy="98" rx="8" ry="14" fill="#8a8670" opacity="0.45"/>
<ellipse cx="690" cy="62" rx="5" ry="4" fill="#9a9a90" opacity="0.35"/>
<ellipse cx="670" cy="112" rx="6" ry="5" fill="#7a7868" opacity="0.4"/>
<path d="M672,80 q4,10 2,20 t6,18" fill="none" stroke="#5a7a9a" stroke-width="0.8" opacity="0.7"/>
<rect x="693" y="62" width="3" height="4" fill="#c8e040"/>
<rect x="665" y="27" width="12" height="4" rx="2" fill="#000"/>
<rect x="653" y="35" width="32" height="9" rx="1" fill="#d0d0cc"/>
<circle cx="689.5" cy="38.5" r="3.8" fill="#f2f2f2"/><circle cx="689.5" cy="38.5" r="1.5" fill="#777"/>
<circle cx="663" cy="28" r="1.3" fill="#4c4"/>
</g>
<rect x="621.5" y="46.5" width="50" height="95" rx="8" fill="#0d0d0d" stroke="#777" stroke-width="1"/>
<rect x="624.5" y="49.5" width="44" height="90" rx="6" fill="#f6f6f6"/>
<rect x="640" y="50.5" width="13" height="4" rx="2" fill="#000"/>
<rect x="626" y="58.4" width="33" height="6.6" rx="1.5" fill="#2a2a2a"/>
<circle cx="663.8" cy="60.8" r="3.4" fill="#2a2a2a"/>
<rect x="628.8" y="82.5" width="35.5" height="6" fill="#5ab8d8"/>
<polyline points="628.8,84 635,82 642,82.5 650,81 657,81 664,80" fill="none" stroke="#e03030" stroke-width="0.8"/>
<polyline points="628.8,85.5 635,84 642,84.5 650,83 657,82.5 664,82" fill="none" stroke="#2030c0" stroke-width="0.8"/>
<polyline points="628.8,93 631,98 635,92 642,92 648,97 656,93 664,95" fill="none" stroke="#f07050" stroke-width="0.8"/>
<polyline points="628.8,109 650,109 652,103 654,109 664,109" fill="none" stroke="#60c060" stroke-width="0.8"/>
<rect x="628.8" y="114" width="35.5" height="8" fill="#c8f020"/>
<rect x="636" y="115" width="14" height="7" fill="#90e010"/>
</g>
<path d="M751.5,96.5 C747,88 752,73 770.5,68.2 C756,75 751,86 753.5,96 Z" fill="#fff"/>
<path d="M753,96.5 C760,97.5 766,94 768,91" fill="none" stroke="#fff" stroke-width="0.9"/>
<text x="764" y="90.3" font-size="17" font-weight="bold" fill="#fff" textLength="92" lengthAdjust="spacingAndGlyphs">icmmeteo</text>
<rect x="860.4" y="72.6" width="25.2" height="25.4" rx="2.5" fill="#fff"/>
<text x="864.6" y="91.2" font-size="14" font-weight="bold" fill="#1150a6" textLength="11.5" lengthAdjust="spacingAndGlyphs">M</text>
<circle cx="880.8" cy="80.5" r="2" fill="none" stroke="#1150a6" stroke-width="1.1"/>
<rect x="170" y="30" width="62" height="598" fill="#eef3fc"/>
<text x="163.8" y="51.5" font-size="11" fill="#000" text-anchor="middle">20</text>
<text x="203.8" y="51.5" font-size="11" fill="#000" text-anchor="middle">02</text>
<text x="244.4" y="51.5" font-size="11" fill="#000" text-anchor="middle">08</text>
<text x="163.8" y="614.4" font-size="11" fill="#000" text-anchor="middle">18</text>
<text x="204" y="614.4" font-size="11" fill="#000" text-anchor="middle">00</text>
<text x="244.5" y="614.4" font-size="11" fill="#000" text-anchor="middle">06</text>
<clipPath id="lT"><rect x="136" y="58" width="109" height="76"/></clipPath>
<g clip-path="url(#lT)">
<rect x="136" y="111" width="109" height="23" fill="#87d3fa"/>
<polygon points="170,111 232,111 245,134 170,134" fill="#7cbce8"/>
<polygon points="135.8,89.9 142.9,90.7 149.9,93.0 156.9,96.1 164.0,99.0 171.0,102.6 178.0,104.5 185.0,105.5 192.0,105.6 199.0,106.3 206.0,107.4 213.0,107.9 220.2,108.0 226.4,109.0 232.5,111.8 237.8,107.5 244.8,104.4 244.8,111.2 237.8,114.4 232.5,118.8 226.4,116.2 220.2,115.3 213.0,115.3 206.0,115.0 199.0,114.0 192.0,113.5 185.0,113.5 178.0,112.6 171.0,110.9 164.0,107.4 156.9,104.7 149.9,101.7 142.9,99.5 135.8,98.9" fill="#fde0d8"/>
<polygon points="135.8,101.2 142.9,103.0 149.9,104.7 156.9,107.4 164.0,110.0 171.0,111.8 178.0,113.5 185.0,114.4 192.0,115.3 199.0,116.2 206.0,117.9 213.0,118.8 220.2,116.2 226.4,117.0 232.5,122.3 237.8,118.8 244.8,115.8 244.8,121.8 237.8,124.8 232.5,128.3 226.4,123.0 220.2,122.2 213.0,124.8 206.0,123.9 199.0,122.2 192.0,121.3 185.0,120.4 178.0,119.5 171.0,117.8 164.0,116.0 156.9,113.4 149.9,110.7 142.9,109.0 135.8,107.2" fill="#b0dcfa"/>
<rect x="135.5" y="111.0" width="3" height="3" fill="#6a5ae0"/>
<rect x="142.0" y="111.65" width="3" height="3" fill="#6a5ae0"/>
<rect x="148.5" y="112.3" width="3" height="3" fill="#6a5ae0"/>
<rect x="155.5" y="113.0" width="3" height="3" fill="#6a5ae0"/>
<rect x="162.5" y="113.7" width="3" height="3" fill="#6a5ae0"/>
<polyline points="135.8,101.2 142.9,103.0 149.9,104.7 156.9,107.4 164.0,110.0 171.0,111.8 178.0,113.5 185.0,114.4 192.0,115.3 199.0,116.2 206.0,117.9 213.0,118.8 220.2,116.2 226.4,117.0 232.5,122.3 237.8,118.8 244.8,115.8" fill="none" stroke="#0000ff" stroke-width="2.6" stroke-linejoin="round"/>
<polyline points="135.8,98.9 142.9,99.5 149.9,101.7 156.9,104.7 164.0,107.4 171.0,110.9 178.0,112.6 185.0,113.5 192.0,113.5 199.0,114.0 206.0,115.0 213.0,115.3 220.2,115.3 226.4,116.2 232.5,118.8 237.8,114.4 244.8,111.2" fill="none" stroke="#ff0000" stroke-width="2.6" stroke-linejoin="round"/>
<line x1="142.5" y1="70.4" x2="142.5" y2="82.7" stroke="#a01010" stroke-width="1.3"/>
<line x1="149.4" y1="77.5" x2="149.4" y2="90.7" stroke="#a01010" stroke-width="1.3"/>
<line x1="156.4" y1="87.1" x2="156.4" y2="98.6" stroke="#a01010" stroke-width="1.3"/>
<line x1="163.4" y1="96.8" x2="163.4" y2="105.6" stroke="#a01010" stroke-width="1.3"/>
<line x1="170.5" y1="101.2" x2="170.5" y2="111.8" stroke="#a01010" stroke-width="1.3"/>
<line x1="177.5" y1="103" x2="177.5" y2="117.9" stroke="#a01010" stroke-width="1.3"/>
<line x1="184.5" y1="105.6" x2="184.5" y2="121.4" stroke="#a01010" stroke-width="1.3"/>
<line x1="191.6" y1="107.4" x2="191.6" y2="123.2" stroke="#a01010" stroke-width="1.3"/>
<line x1="198.6" y1="108.2" x2="198.6" y2="125" stroke="#a01010" stroke-width="1.3"/>
<line x1="205.6" y1="109.1" x2="205.6" y2="128.5" stroke="#a01010" stroke-width="1.3"/>
<line x1="212.7" y1="110" x2="212.7" y2="130.2" stroke="#a01010" stroke-width="1.3"/>
<line x1="219.7" y1="110.9" x2="219.7" y2="131.1" stroke="#a01010" stroke-width="1.3"/>
<line x1="226.7" y1="110.9" x2="226.7" y2="132" stroke="#a01010" stroke-width="1.3"/>
<line x1="233.8" y1="110.9" x2="233.8" y2="132" stroke="#a01010" stroke-width="1.3"/>
<line x1="240.8" y1="106.5" x2="240.8" y2="119.7" stroke="#a01010" stroke-width="1.3"/>
</g>
<line x1="135" y1="59.5" x2="245" y2="59.5" stroke="#000" stroke-width="1" stroke-dasharray="2,2"/>
<line x1="135" y1="77.5" x2="245" y2="77.5" stroke="#000" stroke-width="1" stroke-dasharray="2,2"/>
<line x1="135" y1="94.5" x2="245" y2="94.5" stroke="#000" stroke-width="1" stroke-dasharray="2,2"/>
<line x1="135" y1="111.5" x2="245" y2="111.5" stroke="#000" stroke-width="1" stroke-dasharray="2,2"/>
<line x1="135" y1="129.5" x2="245" y2="129.5" stroke="#000" stroke-width="1" stroke-dasharray="2,2"/>
<line x1="143.5" y1="57" x2="143.5" y2="134" stroke="#000" stroke-width="1" stroke-dasharray="2,2"/>
<line x1="164.5" y1="57" x2="164.5" y2="134" stroke="#000" stroke-width="1" stroke-dasharray="2,2"/>
<line x1="184.5" y1="57" x2="184.5" y2="134" stroke="#000" stroke-width="1" stroke-dasharray="2,2"/>
<line x1="205.5" y1="57" x2="205.5" y2="134" stroke="#000" stroke-width="1" stroke-dasharray="2,2"/>
<line x1="226.5" y1="57" x2="226.5" y2="134" stroke="#000" stroke-width="1" stroke-dasharray="2,2"/>
<rect x="135.5" y="57.5" width="110" height="77" fill="none" stroke="#000" stroke-width="1"/>
<text x="128" y="62.5" font-size="11" fill="#000" text-anchor="end">30</text>
<text x="266" y="62.5" font-size="11" fill="#000" text-anchor="end">30</text>
<text x="128" y="80.6" font-size="11" fill="#000" text-anchor="end">20</text>
<text x="266" y="80.6" font-size="11" fill="#000" text-anchor="end">20</text>
<text x="128" y="97.7" font-size="11" fill="#000" text-anchor="end">10</text>
<text x="266" y="97.7" font-size="11" fill="#000" text-anchor="end">10</text>
<text x="128" y="114.7" font-size="11" fill="#000" text-anchor="end">0</text>
<text x="266" y="114.7" font-size="11" fill="#000" text-anchor="end">0</text>
<text x="128" y="132.9" font-size="11" fill="#000" text-anchor="end">-10</text>
<text x="266" y="132.9" font-size="11" fill="#000" text-anchor="end">-10</text>
<line x1="135" y1="150.5" x2="245" y2="150.5" stroke="#000" stroke-width="1" stroke-dasharray="2,2"/>
<line x1="135" y1="168.5" x2="245" y2="168.5" stroke="#000" stroke-width="1" stroke-dasharray="2,2"/>
<line x1="135" y1="185.5" x2="245" y2="185.5" stroke="#000" stroke-width="1" stroke-dasharray="2,2"/>
<line x1="135" y1="203.5" x2="245" y2="203.5" stroke="#000" stroke-width="1" stroke-dasharray="2,2"/>
<line x1="143.5" y1="143" x2="143.5" y2="220" stroke="#000" stroke-width="1" stroke-dasharray="2,2"/>
<line x1="164.5" y1="143" x2="164.5" y2="220" stroke="#000" stroke-width="1" stroke-dasharray="2,2"/>
<line x1="184.5" y1="143" x2="184.5" y2="220" stroke="#000" stroke-width="1" stroke-dasharray="2,2"/>
<line x1="205.5" y1="143" x2="205.5" y2="220" stroke="#000" stroke-width="1" stroke-dasharray="2,2"/>
<line x1="226.5" y1="143" x2="226.5" y2="220" stroke="#000" stroke-width="1" stroke-dasharray="2,2"/>
<rect x="136" y="187" width="7" height="33" fill="#00a000"/>
<rect x="143" y="181" width="6" height="39" fill="#00a000"/>
<rect x="149" y="179" width="8" height="41" fill="#00a000"/>
<rect x="157" y="202" width="7" height="18" fill="#00a000"/>
<rect x="157" y="182" width="7" height="20" fill="#1a3ad8"/>
<rect x="164" y="208" width="6" height="12" fill="#00a000"/>
<rect x="164" y="205" width="6" height="3" fill="#1a3ad8"/>
<rect x="170" y="218" width="7" height="2" fill="#00a000"/>
<line x1="139.3" y1="165" x2="139.3" y2="187" stroke="#00b000" stroke-width="1"/>
<line x1="146.4" y1="147" x2="146.4" y2="181" stroke="#00b000" stroke-width="1"/>
<line x1="153.4" y1="147" x2="153.4" y2="179" stroke="#00b000" stroke-width="1"/>
<rect x="145" y="145.8" width="3" height="3" fill="#ff0000"/>
<rect x="152" y="145.8" width="3" height="3" fill="#ff0000"/>
<polyline points="135.5,171.9 139.3,169.3 146.4,161.4 151.6,157.0 158.7,154.0 165.7,152.2 185.0,152.2 190.3,149.4 197.4,149.0 204.4,153.5 211.4,155.7 220.2,151.7 227.3,150.0 234.3,152.6 241.3,157.9 245.4,164.0" fill="none" stroke="#e8501a" stroke-width="2.2" stroke-linejoin="round"/>
<circle cx="139.3" cy="173.3" r="2.6" fill="#ffd000" stroke="#803000" stroke-width="0.8"/>
<circle cx="146.4" cy="173.3" r="2.6" fill="#f0a020" stroke="#803000" stroke-width="0.8"/>
<circle cx="153.4" cy="173.3" r="2.6" fill="#e02010" stroke="#803000" stroke-width="0.8"/>
<line x1="138" y1="219.5" x2="140" y2="219.5" stroke="#ff0000" stroke-width="1"/>
<line x1="143" y1="219.5" x2="145" y2="219.5" stroke="#ff0000" stroke-width="1"/>
<line x1="148" y1="219.5" x2="150" y2="219.5" stroke="#ff0000" stroke-width="1"/>
<line x1="153" y1="219.5" x2="155" y2="219.5" stroke="#ff0000" stroke-width="1"/>
<line x1="158" y1="219.5" x2="160" y2="219.5" stroke="#ff0000" stroke-width="1"/>
<line x1="163" y1="219.5" x2="165" y2="219.5" stroke="#ff0000" stroke-width="1"/>
<line x1="168" y1="219.5" x2="170" y2="219.5" stroke="#ff0000" stroke-width="1"/>
<rect x="135.5" y="143.5" width="110" height="77" fill="none" stroke="#000" stroke-width="1"/>
<text x="265.5" y="153.5" font-size="11" fill="#e8501a" text-anchor="end">96</text>
<text x="265.5" y="171.4" font-size="11" fill="#e8501a" text-anchor="end">84</text>
<text x="265.5" y="188.6" font-size="11" fill="#e8501a" text-anchor="end">73</text>
<text x="265.5" y="206.2" font-size="11" fill="#e8501a" text-anchor="end">61</text>
<text x="265.5" y="222.9" font-size="11" fill="#e8501a" text-anchor="end">50</text>
<text x="128" y="154.2" font-size="11" fill="#000" text-anchor="end">2.0</text>
<text x="128" y="171" font-size="11" fill="#000" text-anchor="end">1.5</text>
<text x="128" y="188" font-size="11" fill="#000" text-anchor="end">1.0</text>
<text x="128" y="205" font-size="11" fill="#000" text-anchor="end">0.5</text>
<text x="128" y="223.5" font-size="11" fill="#000" text-anchor="end">0.0</text>
<polygon points="135.5,261.0 142.9,260.2 148.1,254.9 157.8,248.7 164.0,248.7 171.0,245.2 178.0,247.9 192.1,253.1 225.5,253.1 245.4,265.4 245.5,306.0 135.5,306.0" fill="#ffff00"/>
<clipPath id="lPf"><polygon points="135.5,261.0 142.9,260.2 148.1,254.9 157.8,248.7 164.0,248.7 171.0,245.2 178.0,247.9 192.1,253.1 225.5,253.1 245.4,265.4 245.5,306.0 135.5,306.0"/></clipPath>
<rect x="164.8" y="240" width="5.2" height="66" fill="#f8d000" clip-path="url(#lPf)"/>
<line x1="135" y1="231.5" x2="245" y2="231.5" stroke="#000" stroke-width="1" stroke-dasharray="2,2"/>
<line x1="135" y1="254.5" x2="245" y2="254.5" stroke="#000" stroke-width="1" stroke-dasharray="2,2"/>
<line x1="135" y1="278.5" x2="245" y2="278.5" stroke="#000" stroke-width="1" stroke-dasharray="2,2"/>
<line x1="135" y1="301.5" x2="245" y2="301.5" stroke="#000" stroke-width="1" stroke-dasharray="2,2"/>
<line x1="143.5" y1="229" x2="143.5" y2="306" stroke="#000" stroke-width="1" stroke-dasharray="2,2"/>
<line x1="164.5" y1="229" x2="164.5" y2="306" stroke="#000" stroke-width="1" stroke-dasharray="2,2"/>
<line x1="184.5" y1="229" x2="184.5" y2="306" stroke="#000" stroke-width="1" stroke-dasharray="2,2"/>
<line x1="205.5" y1="229" x2="205.5" y2="306" stroke="#000" stroke-width="1" stroke-dasharray="2,2"/>
<line x1="226.5" y1="229" x2="226.5" y2="306" stroke="#000" stroke-width="1" stroke-dasharray="2,2"/>
<polyline points="135.5,261.0 142.9,260.2 148.1,254.9 157.8,248.7 164.0,248.7 171.0,245.2 178.0,247.9 192.1,253.1 225.5,253.1 245.4,265.4" fill="none" stroke="#000" stroke-width="2.2" stroke-linejoin="round"/>
<rect x="135.5" y="229.5" width="110" height="77" fill="none" stroke="#000" stroke-width="1"/>
<text x="128" y="234.2" font-size="11" fill="#000" text-anchor="end">1018</text>
<text x="251" y="234.7" font-size="11" fill="#000">1018</text>
<text x="128" y="257.3" font-size="11" fill="#000" text-anchor="end">1016</text>
<text x="251" y="257.8" font-size="11" fill="#000">1016</text>
<text x="128" y="281.2" font-size="11" fill="#000" text-anchor="end">1014</text>
<text x="251" y="281.7" font-size="11" fill="#000">1014</text>
<text x="128" y="304.2" font-size="11" fill="#000" text-anchor="end">1012</text>
<text x="251" y="304.7" font-size="11" fill="#000">1012</text>
<clipPath id="lWf"><polygon points="135.5,364.5 140.0,368.2 147.3,370.9 156.4,372.2 169.0,374.5 180.0,375.8 189.0,374.0 198.2,372.7 210.9,372.2 225.5,372.2 234.5,370.0 245.5,369.0 245.5,392.0 135.5,392.0"/></clipPath>
<g clip-path="url(#lWf)">
<rect x="135.5" y="360" width="12.699999999999989" height="32" fill="#22c822"/>
<rect x="148.2" y="360" width="20.80000000000001" height="32" fill="#008000"/>
<rect x="169" y="360" width="28.30000000000001" height="32" fill="#0a3a8a"/>
<rect x="197.3" y="360" width="13.599999999999994" height="32" fill="#008000"/>
<rect x="210.9" y="360" width="14.599999999999994" height="32" fill="#0a3a8a"/>
<rect x="225.5" y="360" width="13.5" height="32" fill="#008000"/>
<rect x="239" y="360" width="6.5" height="32" fill="#22c822"/>
</g>
<line x1="135" y1="334.5" x2="245" y2="334.5" stroke="#000" stroke-width="1" stroke-dasharray="2,2"/>
<line x1="135" y1="354.5" x2="245" y2="354.5" stroke="#000" stroke-width="1" stroke-dasharray="2,2"/>
<line x1="135" y1="372.5" x2="245" y2="372.5" stroke="#000" stroke-width="1" stroke-dasharray="2,2"/>
<line x1="143.5" y1="315" x2="143.5" y2="392" stroke="#000" stroke-width="1" stroke-dasharray="2,2"/>
<line x1="164.5" y1="315" x2="164.5" y2="392" stroke="#000" stroke-width="1" stroke-dasharray="2,2"/>
<line x1="184.5" y1="315" x2="184.5" y2="392" stroke="#000" stroke-width="1" stroke-dasharray="2,2"/>
<line x1="205.5" y1="315" x2="205.5" y2="392" stroke="#000" stroke-width="1" stroke-dasharray="2,2"/>
<line x1="226.5" y1="315" x2="226.5" y2="392" stroke="#000" stroke-width="1" stroke-dasharray="2,2"/>
<polyline points="135.5,364.5 140.0,368.2 147.3,370.9 156.4,372.2 169.0,374.5 180.0,375.8 189.0,374.0 198.2,372.7 210.9,372.2 225.5,372.2 234.5,370.0 245.5,369.0" fill="none" stroke="#0a1a9a" stroke-width="2.4" stroke-linejoin="round"/>
<line x1="148.2" y1="348" x2="161.8" y2="348" stroke="#ff1010" stroke-width="1.3"/>
<line x1="161.8" y1="351.5" x2="170" y2="351.5" stroke="#ff1010" stroke-width="1.3"/>
<line x1="170" y1="355" x2="176.4" y2="355" stroke="#ff1010" stroke-width="1.3"/>
<line x1="176.4" y1="358.7" x2="184.5" y2="358.7" stroke="#ff1010" stroke-width="1.3"/>
<line x1="184.5" y1="354.2" x2="190" y2="354.2" stroke="#ff1010" stroke-width="1.3"/>
<line x1="190" y1="351" x2="210.9" y2="351" stroke="#ff1010" stroke-width="1.3"/>
<line x1="210.9" y1="351.5" x2="225.5" y2="351.5" stroke="#ff1010" stroke-width="1.3"/>
<line x1="225.5" y1="347.3" x2="232.7" y2="347.3" stroke="#ff1010" stroke-width="1.3"/>
<line x1="232.7" y1="342.7" x2="245.5" y2="342.7" stroke="#ff1010" stroke-width="1.3"/>
<rect x="135.5" y="315.5" width="110" height="77" fill="none" stroke="#000" stroke-width="1"/>
<text x="129.2" y="318" font-size="11" fill="#000" text-anchor="end">20</text>
<text x="129.2" y="337.3" font-size="11" fill="#000" text-anchor="end">15</text>
<text x="129.2" y="357.3" font-size="11" fill="#000" text-anchor="end">10</text>
<text x="129.2" y="376.5" font-size="11" fill="#000" text-anchor="end">5</text>
<text x="129.2" y="395" font-size="11" fill="#000" text-anchor="end">0</text>
<text x="251" y="319" font-size="11" fill="#000">72</text>
<text x="251" y="337.6" font-size="11" fill="#000">54</text>
<text x="251" y="357.6" font-size="11" fill="#000">36</text>
<text x="251" y="376.4" font-size="11" fill="#000">18</text>
<text x="251" y="395.5" font-size="11" fill="#000">0</text>
<line x1="143.5" y1="398" x2="143.5" y2="430" stroke="#000" stroke-width="1" stroke-dasharray="2,2"/>
<line x1="164.5" y1="398" x2="164.5" y2="430" stroke="#000" stroke-width="1" stroke-dasharray="2,2"/>
<line x1="184.5" y1="398" x2="184.5" y2="430" stroke="#000" stroke-width="1" stroke-dasharray="2,2"/>
<line x1="205.5" y1="398" x2="205.5" y2="430" stroke="#000" stroke-width="1" stroke-dasharray="2,2"/>
<line x1="226.5" y1="398" x2="226.5" y2="430" stroke="#000" stroke-width="1" stroke-dasharray="2,2"/>
<line x1="132.3" y1="406.1" x2="138.2" y2="417.1" stroke="#0a10a0" stroke-width="1.5"/>
<polygon points="141.3,422.9 135.3,418.7 141.1,415.6" fill="#0a10a0"/>
<line x1="139.7" y1="406.0" x2="145.1" y2="417.2" stroke="#0a10a0" stroke-width="1.5"/>
<polygon points="147.9,423.0 142.1,418.6 148.1,415.8" fill="#0a10a0"/>
<line x1="147.0" y1="405.8" x2="152.0" y2="417.2" stroke="#0a10a0" stroke-width="1.5"/>
<polygon points="154.6,423.2 149.0,418.6 155.0,415.9" fill="#0a10a0"/>
<line x1="154.3" y1="405.7" x2="158.9" y2="417.3" stroke="#0a10a0" stroke-width="1.5"/>
<polygon points="161.3,423.3 155.9,418.5 162.0,416.1" fill="#0a10a0"/>
<line x1="161.5" y1="405.6" x2="165.8" y2="417.3" stroke="#0a10a0" stroke-width="1.5"/>
<polygon points="168.1,423.4 162.7,418.5 168.9,416.2" fill="#0a10a0"/>
<line x1="168.7" y1="405.5" x2="172.8" y2="417.3" stroke="#0a10a0" stroke-width="1.5"/>
<polygon points="174.9,423.5 169.6,418.4 175.9,416.3" fill="#0a10a0"/>
<line x1="175.9" y1="405.5" x2="179.7" y2="417.4" stroke="#0a10a0" stroke-width="1.5"/>
<polygon points="181.7,423.5 176.6,418.4 182.9,416.3" fill="#0a10a0"/>
<line x1="183.0" y1="405.4" x2="186.7" y2="417.4" stroke="#0a10a0" stroke-width="1.5"/>
<polygon points="188.6,423.6 183.5,418.3 189.8,416.4" fill="#0a10a0"/>
<line x1="190.0" y1="405.4" x2="193.7" y2="417.4" stroke="#0a10a0" stroke-width="1.5"/>
<polygon points="195.6,423.6 190.5,418.3 196.8,416.4" fill="#0a10a0"/>
<line x1="197.0" y1="405.4" x2="200.7" y2="417.4" stroke="#0a10a0" stroke-width="1.5"/>
<polygon points="202.6,423.6 197.5,418.3 203.8,416.4" fill="#0a10a0"/>
<line x1="203.9" y1="405.5" x2="207.7" y2="417.4" stroke="#0a10a0" stroke-width="1.5"/>
<polygon points="209.7,423.5 204.6,418.4 210.9,416.3" fill="#0a10a0"/>
<line x1="210.7" y1="405.5" x2="214.8" y2="417.3" stroke="#0a10a0" stroke-width="1.5"/>
<polygon points="216.9,423.5 211.7,418.4 217.9,416.3" fill="#0a10a0"/>
<line x1="217.5" y1="405.6" x2="221.9" y2="417.3" stroke="#0a10a0" stroke-width="1.5"/>
<polygon points="224.1,423.4 218.8,418.5 224.9,416.2" fill="#0a10a0"/>
<line x1="224.2" y1="405.7" x2="228.9" y2="417.3" stroke="#0a10a0" stroke-width="1.5"/>
<polygon points="231.4,423.3 225.9,418.5 232.0,416.0" fill="#0a10a0"/>
<line x1="230.9" y1="405.8" x2="236.0" y2="417.2" stroke="#0a10a0" stroke-width="1.5"/>
<polygon points="238.7,423.2 233.0,418.6 239.0,415.9" fill="#0a10a0"/>
<line x1="237.6" y1="406.0" x2="243.1" y2="417.2" stroke="#0a10a0" stroke-width="1.5"/>
<polygon points="246.0,423.0 240.2,418.7 246.1,415.7" fill="#0a10a0"/>
<line x1="244.3" y1="406.1" x2="250.2" y2="417.1" stroke="#0a10a0" stroke-width="1.5"/>
<polygon points="253.3,422.9 247.3,418.7 253.1,415.6" fill="#0a10a0"/>
<rect x="135.5" y="398.5" width="110" height="32" fill="none" stroke="#000" stroke-width="1"/>
<rect x="136" y="437" width="109" height="77" fill="#87d3fa"/>
<rect x="170" y="437" width="62" height="77" fill="#7cbce8"/>
<line x1="135" y1="456.5" x2="245" y2="456.5" stroke="#000" stroke-width="1" stroke-dasharray="2,2"/>
<line x1="135" y1="475.5" x2="245" y2="475.5" stroke="#000" stroke-width="1" stroke-dasharray="2,2"/>
<line x1="135" y1="495.5" x2="245" y2="495.5" stroke="#000" stroke-width="1" stroke-dasharray="2,2"/>
<line x1="143.5" y1="436" x2="143.5" y2="514" stroke="#000" stroke-width="1" stroke-dasharray="2,2"/>
<line x1="164.5" y1="436" x2="164.5" y2="514" stroke="#000" stroke-width="1" stroke-dasharray="2,2"/>
<line x1="184.5" y1="436" x2="184.5" y2="514" stroke="#000" stroke-width="1" stroke-dasharray="2,2"/>
<line x1="205.5" y1="436" x2="205.5" y2="514" stroke="#000" stroke-width="1" stroke-dasharray="2,2"/>
<line x1="226.5" y1="436" x2="226.5" y2="514" stroke="#000" stroke-width="1" stroke-dasharray="2,2"/>
<clipPath id="lC"><rect x="136" y="437" width="109" height="77"/></clipPath><g clip-path="url(#lC)">
<circle cx="170.2" cy="451" r="3.1" fill="#a51c1c"/>
<circle cx="176.8" cy="451" r="3.1" fill="#a51c1c"/>
<circle cx="184.4" cy="451" r="3.1" fill="#a51c1c"/>
<circle cx="191.6" cy="451" r="3.1" fill="#a51c1c"/>
<circle cx="198" cy="451" r="3.1" fill="#a51c1c"/>
<circle cx="204.7" cy="451" r="3.1" fill="#a51c1c"/>
<circle cx="211.5" cy="451" r="3.1" fill="#a51c1c"/>
<circle cx="218.5" cy="451" r="3.1" fill="#a51c1c"/>
<circle cx="225.5" cy="451" r="3.1" fill="#a51c1c"/>
<circle cx="232.3" cy="451" r="3.1" fill="#a51c1c"/>
<circle cx="239.3" cy="451" r="3.1" fill="#a51c1c"/>
<circle cx="245" cy="451" r="3.1" fill="#a51c1c"/>
<circle cx="150.3" cy="458.4" r="3.1" fill="#a51c1c"/>
<circle cx="157.3" cy="458.4" r="3.1" fill="#a51c1c"/>
<circle cx="164.5" cy="460.3" r="3.1" fill="#a51c1c"/>
<circle cx="137.4" cy="475.5" r="3.1" fill="#a51c1c"/>
<circle cx="143.7" cy="475.5" r="3.1" fill="#a51c1c"/>
<circle cx="191.6" cy="456.6" r="3.1" fill="#000000"/>
<circle cx="198" cy="464.1" r="3.1" fill="#000000"/>
<circle cx="204.7" cy="467.9" r="3.1" fill="#000000"/>
<circle cx="211.5" cy="470.4" r="3.1" fill="#000000"/>
<circle cx="218.5" cy="481.2" r="3.1" fill="#000000"/>
<circle cx="225.5" cy="485.5" r="3.1" fill="#000000"/>
<circle cx="232.3" cy="489.3" r="3.1" fill="#000000"/>
<circle cx="239.3" cy="481.2" r="3.1" fill="#000000"/>
<circle cx="184.4" cy="489.3" r="3.1" fill="#000000"/>
<circle cx="143.7" cy="481.7" r="3.1" fill="#555555"/>
<circle cx="150.3" cy="492.5" r="3.1" fill="#555555"/>
<circle cx="157.3" cy="492.5" r="3.1" fill="#555555"/>
<circle cx="164.5" cy="492.5" r="3.1" fill="#555555"/>
<circle cx="191.6" cy="489.3" r="3.1" fill="#555555"/>
<circle cx="211.5" cy="481.7" r="3.1" fill="#555555"/>
<circle cx="218.5" cy="489.3" r="3.1" fill="#555555"/>
<circle cx="225.5" cy="492.5" r="3.1" fill="#555555"/>
<circle cx="232.3" cy="493.5" r="3.1" fill="#555555"/>
<circle cx="170.2" cy="488.8" r="3.1" fill="#c8c8c8"/>
<circle cx="176.8" cy="488.8" r="3.1" fill="#c8c8c8"/>
<circle cx="198" cy="485.9" r="3.1" fill="#c8c8c8"/>
<circle cx="211.5" cy="488" r="3.1" fill="#c8c8c8"/>
<circle cx="143.7" cy="500.1" r="3.1" fill="#858585"/>
<circle cx="184.4" cy="500.1" r="3.1" fill="#858585"/>
<circle cx="218.5" cy="500.1" r="3.1" fill="#c8c8c8"/>
<circle cx="225.5" cy="500.1" r="3.1" fill="#c8c8c8"/>
<circle cx="232.3" cy="500.1" r="3.1" fill="#c8c8c8"/>
<circle cx="239.3" cy="495.4" r="3.1" fill="#c8c8c8"/>
<circle cx="150.3" cy="500.1" r="3.1" fill="#ffffff"/>
<circle cx="164.5" cy="499.2" r="3.1" fill="#ffffff"/>
<circle cx="170.2" cy="492.5" r="3.1" fill="#ffffff"/>
<circle cx="176.8" cy="492.5" r="3.1" fill="#ffffff"/>
<circle cx="191.6" cy="500.1" r="3.1" fill="#ffffff"/>
<circle cx="198" cy="492.5" r="3.1" fill="#ffffff"/>
<circle cx="204.7" cy="492.5" r="3.1" fill="#ffffff"/>
<circle cx="211.5" cy="492.5" r="3.1" fill="#ffffff"/>
<circle cx="137.4" cy="507.7" r="3.1" fill="#c8c8c8"/>
<circle cx="143.7" cy="504.8" r="3.1" fill="#ffffff"/>
<circle cx="184.4" cy="509.6" r="3.1" fill="#ffffff"/>
<circle cx="218.5" cy="509.6" r="3.1" fill="#ffffff"/>
<circle cx="225.5" cy="509.6" r="3.1" fill="#ffffff"/>
<circle cx="232.3" cy="509.6" r="3.1" fill="#ffffff"/>
<circle cx="239.3" cy="509.6" r="3.1" fill="#ffffff"/>
<polyline points="135.5,470.8 142.7,470.8 150.3,466.0 161.7,463.6 173.0,463.6 180.6,465.0 192.0,469.2 203.3,470.8 216.6,474.5 231.7,473.6 241.2,470.8 245.4,469.8" fill="none" stroke="#ff9900" stroke-width="2.2" stroke-linejoin="round"/>
</g>
<rect x="135.5" y="436.5" width="110" height="78" fill="none" stroke="#000" stroke-width="1"/>
<text x="128" y="439.6" font-size="11" fill="#000" text-anchor="end">15.0</text>
<text x="128" y="459.6" font-size="11" fill="#000" text-anchor="end">7.0</text>
<text x="128" y="478.4" font-size="11" fill="#000" text-anchor="end">2.0</text>
<text x="128" y="498.8" font-size="11" fill="#000" text-anchor="end">0.5</text>
<text x="128" y="517.3" font-size="11" fill="#000" text-anchor="end">0.0</text>
<text x="251.5" y="440" font-size="11" fill="#ff8000">100</text>
<text x="251.5" y="459.8" font-size="11" fill="#ff8000">20</text>
<text x="251.5" y="478.7" font-size="11" fill="#ff8000">5</text>
<text x="251.5" y="498.8" font-size="11" fill="#ff8000">1</text>
<text x="251.5" y="517.2" font-size="11" fill="#ff8000">0</text>
<clipPath id="lK"><rect x="136" y="524" width="109" height="77"/></clipPath><g clip-path="url(#lK)">
<rect x="136" y="524" width="109" height="77" fill="#87d3fa"/>
<rect x="170" y="524" width="62" height="77" fill="#7cbce8"/>
<polygon points="193,601 193,572 196.6,545.8 197.5,531 202,532.9 207.1,530.3 214,524 245.5,524 245.5,601" fill="#9c9c9c"/>
<polygon points="165.9,601 165.9,588.3 169.8,575.4 176.2,565.7 184.6,563.1 189.1,554.8 195.5,545.1 196.6,545.8 193,572 193,601" fill="#ffffff"/>
<polyline points="204.5,543.2 209,531.6 214.8,525.2 225.1,524.3 232.9,524.3 244.5,543.8" fill="none" stroke="#fff" stroke-width="1.4"/>
<polygon points="135.6,601 135.6,575.4 143.4,563.1 150.5,576.7 164.6,585.7 165.9,588.3 177.5,592.8 184.6,568.9 191.7,569.6 204.5,596 225.1,535.5 232.9,539.3 245.5,567.6 245.5,601" fill="#5a5a5a"/>
<polygon points="136,597 149.2,590.8 162.7,601 136,601" fill="#333333"/>
<polyline points="185,601 191,584 193,575" fill="none" stroke="#b0b0b0" stroke-width="0.8"/>
<rect x="217" y="590" width="3" height="11" fill="#ffb800"/>
<rect x="224" y="590" width="3" height="11" fill="#ffb800"/>
<rect x="231" y="590" width="3" height="11" fill="#ffb800"/>
<rect x="238" y="590" width="3" height="11" fill="#ffb800"/>
</g>
<line x1="135" y1="543.5" x2="245" y2="543.5" stroke="#000" stroke-width="1" stroke-dasharray="2,2"/>
<line x1="135" y1="562.5" x2="245" y2="562.5" stroke="#000" stroke-width="1" stroke-dasharray="2,2"/>
<line x1="135" y1="582.5" x2="245" y2="582.5" stroke="#000" stroke-width="1" stroke-dasharray="2,2"/>
<line x1="143.5" y1="523" x2="143.5" y2="601" stroke="#000" stroke-width="1" stroke-dasharray="2,2"/>
<line x1="164.5" y1="523" x2="164.5" y2="601" stroke="#000" stroke-width="1" stroke-dasharray="2,2"/>
<line x1="184.5" y1="523" x2="184.5" y2="601" stroke="#000" stroke-width="1" stroke-dasharray="2,2"/>
<line x1="205.5" y1="523" x2="205.5" y2="601" stroke="#000" stroke-width="1" stroke-dasharray="2,2"/>
<line x1="226.5" y1="523" x2="226.5" y2="601" stroke="#000" stroke-width="1" stroke-dasharray="2,2"/>
<rect x="135.5" y="523.5" width="110" height="78" fill="none" stroke="#000" stroke-width="1"/>
<text x="128" y="526.5" font-size="11" fill="#000" text-anchor="end">8</text>
<text x="128" y="546.5" font-size="11" fill="#000" text-anchor="end">6</text>
<text x="128" y="565.3" font-size="11" fill="#000" text-anchor="end">4</text>
<text x="128" y="584.4" font-size="11" fill="#000" text-anchor="end">2</text>
<text x="128" y="604.3" font-size="11" fill="#000" text-anchor="end">0</text>
<text x="250.8" y="525.8" font-size="11" fill="#ff8000">1</text>
<text x="250.8" y="546.5" font-size="11" fill="#ff8000">0.75</text>
<text x="250.8" y="565.6" font-size="11" fill="#ff8000">0.5</text>
<text x="250.8" y="584.9" font-size="11" fill="#ff8000">0.25</text>
<text x="250.8" y="603.6" font-size="11" fill="#ff8000">0</text>
<text x="6" y="18.2" font-size="11" fill="#000" textLength="59.5" lengthAdjust="spacingAndGlyphs">Czas lokalny</text>
<text x="6" y="29.2" font-size="11" fill="#000" textLength="54" lengthAdjust="spacing">(CET/CEST)</text>
<text x="6.2" y="45.8" font-size="11" fill="#aa2222" textLength="93" lengthAdjust="spacingAndGlyphs">Temperatura gruntu</text>
<text x="27.7" y="55.4" font-size="11" fill="#aa2222" textLength="38.3" lengthAdjust="spacingAndGlyphs">max/min</text>
<text x="5.4" y="67.4" font-size="11" fill="#000" textLength="62.3" lengthAdjust="spacingAndGlyphs">Temperatura:</text>
<text x="12.3" y="79.7" font-size="11" fill="#ff0000" textLength="77.7" lengthAdjust="spacingAndGlyphs">punkt środkowy</text>
<text x="27.7" y="89.2" font-size="11" fill="#ffc8bc" textLength="38.3" lengthAdjust="spacingAndGlyphs">max/min</text>
<text x="10" y="101.5" font-size="11" fill="#0000ff" textLength="57" lengthAdjust="spacingAndGlyphs">odczuwana</text>
<text x="27.7" y="111.5" font-size="11" fill="#a8d8ff" textLength="38.3" lengthAdjust="spacingAndGlyphs">max/min</text>
<text x="6.2" y="123.4" font-size="11" fill="#6a5ad8" textLength="86.8" lengthAdjust="spacingAndGlyphs">Temp. punktu rosy</text>
<text x="6.2" y="140.4" font-size="11" fill="#ff0000" textLength="93.8" lengthAdjust="spacingAndGlyphs">Opad powyżej skali</text>
<text x="6.2" y="154.2" font-size="11" fill="#e8501a" textLength="96.8" lengthAdjust="spacingAndGlyphs">Wilgotność względna</text>
<text x="6.2" y="168" font-size="11" fill="#000" textLength="84.6" lengthAdjust="spacingAndGlyphs">Wystąpienie burzy</text>
<text x="6.2" y="182" font-size="11" fill="#00a000" textLength="39.2" lengthAdjust="spacingAndGlyphs">Deszcz:</text>
<text x="49.2" y="182" font-size="11" fill="#00a000" textLength="19.8" lengthAdjust="spacingAndGlyphs">max</text>
<text x="49" y="192.7" font-size="11" fill="#00a000" textLength="29.5" lengthAdjust="spacingAndGlyphs">średni</text>
<text x="6.2" y="205" font-size="11" fill="#1a3ad8" textLength="29.2" lengthAdjust="spacingAndGlyphs">Śnieg:</text>
<text x="49" y="205" font-size="11" fill="#1a3ad8" textLength="18.7" lengthAdjust="spacingAndGlyphs">max</text>
<text x="49" y="215.3" font-size="11" fill="#1a3ad8" textLength="29.5" lengthAdjust="spacingAndGlyphs">średni</text>
<text x="5.4" y="227.6" font-size="11" fill="#ff0000" textLength="88.6" lengthAdjust="spacingAndGlyphs">Wystąpienie opadu</text>
<text x="5.4" y="240.4" font-size="11" fill="#ff0000" textLength="71.6" lengthAdjust="spacingAndGlyphs">konwekcyjnego</text>
<text x="4.6" y="266.5" font-size="11" fill="#000" textLength="42.4" lengthAdjust="spacingAndGlyphs">Ciśnienie</text>
<text x="4.6" y="279.6" font-size="11" fill="#000" textLength="66.4" lengthAdjust="spacingAndGlyphs">zredukowane</text>
<text x="4.6" y="292.7" font-size="11" fill="#000" textLength="87.7" lengthAdjust="spacingAndGlyphs">do poziomu morza</text>
<text x="5.4" y="321.6" font-size="11" fill="#000" textLength="66.1" lengthAdjust="spacingAndGlyphs">Wiatr na 10m:</text>
<text x="10" y="337.3" font-size="11" fill="#ff0000" textLength="100.8" lengthAdjust="spacingAndGlyphs">poryw powyżej skali</text>
<text x="10" y="351.2" font-size="11" fill="#ff0000" textLength="94.3" lengthAdjust="spacingAndGlyphs">max porywy wiatru</text>
<text x="10" y="371.2" font-size="11" fill="#14209a" textLength="78.5" lengthAdjust="spacingAndGlyphs">prędkość wiatru</text>
<text x="10" y="384.2" font-size="11" fill="#14209a" textLength="88.5" lengthAdjust="spacingAndGlyphs">w środku obszaru</text>
<text x="10" y="412" font-size="11" fill="#14209a" textLength="73" lengthAdjust="spacingAndGlyphs">kierunek wiatru</text>
<text x="5.8" y="432.7" font-size="11" fill="#aa2222" textLength="91.2" lengthAdjust="spacingAndGlyphs">Wierzchołek chmur</text>
<text x="5.8" y="447.6" font-size="11" fill="#000" textLength="85" lengthAdjust="spacingAndGlyphs">Podstawa chmur*</text>
<text x="5.8" y="458.4" font-size="11" fill="#000" textLength="47.2" lengthAdjust="spacingAndGlyphs">o pokryciu</text>
<text x="10.8" y="471.6" font-size="11" fill="#000" textLength="43.8" lengthAdjust="spacingAndGlyphs">&gt; 7.9 okt.</text>
<text x="10.8" y="482.4" font-size="11" fill="#5a5a5a" textLength="43" lengthAdjust="spacingAndGlyphs">&gt; 6.5 okt.</text>
<text x="10" y="493.5" font-size="11" fill="#969696" textLength="43" lengthAdjust="spacingAndGlyphs">&gt; 4.5 okt.</text>
<text x="10" y="503.5" font-size="11" fill="#cdcdcd" textLength="43" lengthAdjust="spacingAndGlyphs">&gt; 2.5 okt.</text>
<rect x="11" y="505" width="44" height="11.5" fill="#87d3fa"/>
<text x="11" y="515.2" font-size="11" fill="#ffffff" textLength="43" lengthAdjust="spacingAndGlyphs">&gt; 0.1 okt.</text>
<text x="5.8" y="529.6" font-size="11" fill="#ff7800" textLength="57.2" lengthAdjust="spacingAndGlyphs">Widzialność</text>
<text x="5.8" y="546.5" font-size="11" fill="#000" textLength="38.8" lengthAdjust="spacingAndGlyphs">Chmury:</text>
<rect x="10.5" y="551" width="40.3" height="9.5" fill="#87d3fa"/>
<text x="10.5" y="559.5" font-size="11" fill="#ffffff" textLength="40" lengthAdjust="spacingAndGlyphs">wysokie</text>
<text x="9.5" y="572.5" font-size="11" fill="#aaaaaa" textLength="35.8" lengthAdjust="spacingAndGlyphs">średnie</text>
<text x="9.5" y="584.4" font-size="11" fill="#464646" textLength="26.8" lengthAdjust="spacingAndGlyphs">niskie</text>
<text x="9.5" y="596.4" font-size="11" fill="#323232" textLength="61.3" lengthAdjust="spacingAndGlyphs">bardzo niskie</text>
<text x="5.6" y="608.3" font-size="11" fill="#ffb400" textLength="20.6" lengthAdjust="spacingAndGlyphs">Mgła</text>
<text x="5.6" y="625" font-size="11" fill="#000" textLength="131.2" lengthAdjust="spacing">Czas uniwersalny (UTC)</text>
<text x="5.6" y="650.5" font-size="9" fill="#000" textLength="102.6" lengthAdjust="spacingAndGlyphs">* powyżej poziomu morza</text>
<polyline points="68.0,16.7 133.0,16.7 156.0,45.0" fill="none" stroke="#000" stroke-width="1" stroke-linejoin="round"/>
<polyline points="103.0,43.0 119.0,43.0 149.0,83.0 160.0,100.0" fill="none" stroke="#aa2222" stroke-width="1" stroke-linejoin="round"/>
<polyline points="92.3,76.3 114.6,76.3" fill="none" stroke="#ff0000" stroke-width="1" stroke-linejoin="round"/>
<polyline points="130.0,76.3 134.0,77.0 150.0,97.0" fill="none" stroke="#ff0000" stroke-width="1" stroke-linejoin="round"/>
<polyline points="70.0,99.7 132.3,99.7 136.0,102.0" fill="none" stroke="#0000ff" stroke-width="1" stroke-linejoin="round"/>
<polyline points="95.4,120.5 131.5,120.5 142.0,112.0" fill="none" stroke="#6a5ad8" stroke-width="1" stroke-linejoin="round"/>
<polyline points="103.0,137.5 139.0,137.5 146.5,147.0" fill="none" stroke="#ff0000" stroke-width="1" stroke-linejoin="round"/>
<polyline points="106.0,152.0 111.5,152.0" fill="none" stroke="#e8501a" stroke-width="1" stroke-linejoin="round"/>
<polyline points="129.7,151.7 139.3,169.3" fill="none" stroke="#e8501a" stroke-width="1" stroke-linejoin="round"/>
<polyline points="93.8,166.7 112.3,166.7" fill="none" stroke="#000" stroke-width="1" stroke-linejoin="round"/>
<polyline points="130.0,167.0 137.0,172.0" fill="none" stroke="#000" stroke-width="1" stroke-linejoin="round"/>
<polyline points="71.0,179.7 136.0,179.7" fill="none" stroke="#00a000" stroke-width="1" stroke-linejoin="round"/>
<polyline points="80.3,190.9 136.0,190.9" fill="none" stroke="#00a000" stroke-width="1" stroke-linejoin="round"/>
<polyline points="70.0,202.5 111.5,202.5" fill="none" stroke="#1a3ad8" stroke-width="1" stroke-linejoin="round"/>
<polyline points="129.7,202.7 160.4,171.0" fill="none" stroke="#1a3ad8" stroke-width="1" stroke-linejoin="round"/>
<polyline points="80.8,214.0 131.5,214.0 160.4,187.7" fill="none" stroke="#1a3ad8" stroke-width="1" stroke-linejoin="round"/>
<polyline points="97.0,225.5 140.0,225.5 143.0,220.0" fill="none" stroke="#ff0000" stroke-width="1" stroke-linejoin="round"/>
<polyline points="50.8,264.7 132.3,264.7 136.0,261.0" fill="none" stroke="#000" stroke-width="1" stroke-linejoin="round"/>
<polyline points="112.0,334.7 117.0,334.7" fill="none" stroke="#ff0000" stroke-width="1" stroke-linejoin="round"/>
<polyline points="131.8,333.6 138.2,317.3" fill="none" stroke="#ff0000" stroke-width="1" stroke-linejoin="round"/>
<polyline points="107.0,349.0 131.5,349.0 143.6,340.9 148.0,340.0" fill="none" stroke="#ff0000" stroke-width="1" stroke-linejoin="round"/>
<polyline points="92.3,367.8 137.0,367.8" fill="none" stroke="#14209a" stroke-width="1" stroke-linejoin="round"/>
<polyline points="86.0,410.9 140.5,410.9" fill="none" stroke="#14209a" stroke-width="1" stroke-linejoin="round"/>
<polyline points="100.0,430.5 133.0,430.5 184.4,449.0" fill="none" stroke="#aa2222" stroke-width="1" stroke-linejoin="round"/>
<polyline points="57.0,468.5 132.3,468.5 191.6,456.6" fill="none" stroke="#000" stroke-width="1" stroke-linejoin="round"/>
<polyline points="57.0,480.9 143.7,480.9" fill="none" stroke="#5a5a5a" stroke-width="1" stroke-linejoin="round"/>
<polyline points="57.0,490.9 131.0,490.9 139.0,495.0" fill="none" stroke="#969696" stroke-width="1" stroke-linejoin="round"/>
<polyline points="57.0,500.9 131.0,500.9 141.0,505.0" fill="none" stroke="#cdcdcd" stroke-width="1" stroke-linejoin="round"/>
<polyline points="57.0,509.8 136.0,509.8" fill="none" stroke="#87d3fa" stroke-width="1" stroke-linejoin="round"/>
<polyline points="57.0,512.0 136.0,512.0" fill="none" stroke="#87d3fa" stroke-width="1" stroke-linejoin="round"/>
<polyline points="67.0,527.3 129.0,527.3 135.2,520.0 175.0,463.6" fill="none" stroke="#ff9900" stroke-width="1" stroke-linejoin="round"/>
<polyline points="52.0,556.0 136.0,556.0" fill="none" stroke="#87d3fa" stroke-width="1" stroke-linejoin="round"/>
<polyline points="52.0,558.5 136.0,558.5" fill="none" stroke="#87d3fa" stroke-width="1" stroke-linejoin="round"/>
<polyline points="136.0,557.3 186.0,557.3" fill="none" stroke="#ffffff" stroke-width="1" stroke-linejoin="round"/>
<polyline points="49.3,571.5 192.0,571.5" fill="none" stroke="#aaaaaa" stroke-width="1" stroke-linejoin="round"/>
<polyline points="39.8,582.5 121.0,582.5" fill="none" stroke="#464646" stroke-width="1" stroke-linejoin="round"/>
<polyline points="130.4,582.5 136.0,582.5" fill="none" stroke="#464646" stroke-width="1" stroke-linejoin="round"/>
<polyline points="74.0,594.5 136.0,594.5" fill="none" stroke="#323232" stroke-width="1" stroke-linejoin="round"/>
<polyline points="30.2,606.0 217.0,606.0 219.6,601.0" fill="none" stroke="#ffb400" stroke-width="1" stroke-linejoin="round"/>
<polyline points="137.8,623.5 148.4,623.5 157.1,611.6" fill="none" stroke="#000" stroke-width="1" stroke-linejoin="round"/>
</svg></body></html>
